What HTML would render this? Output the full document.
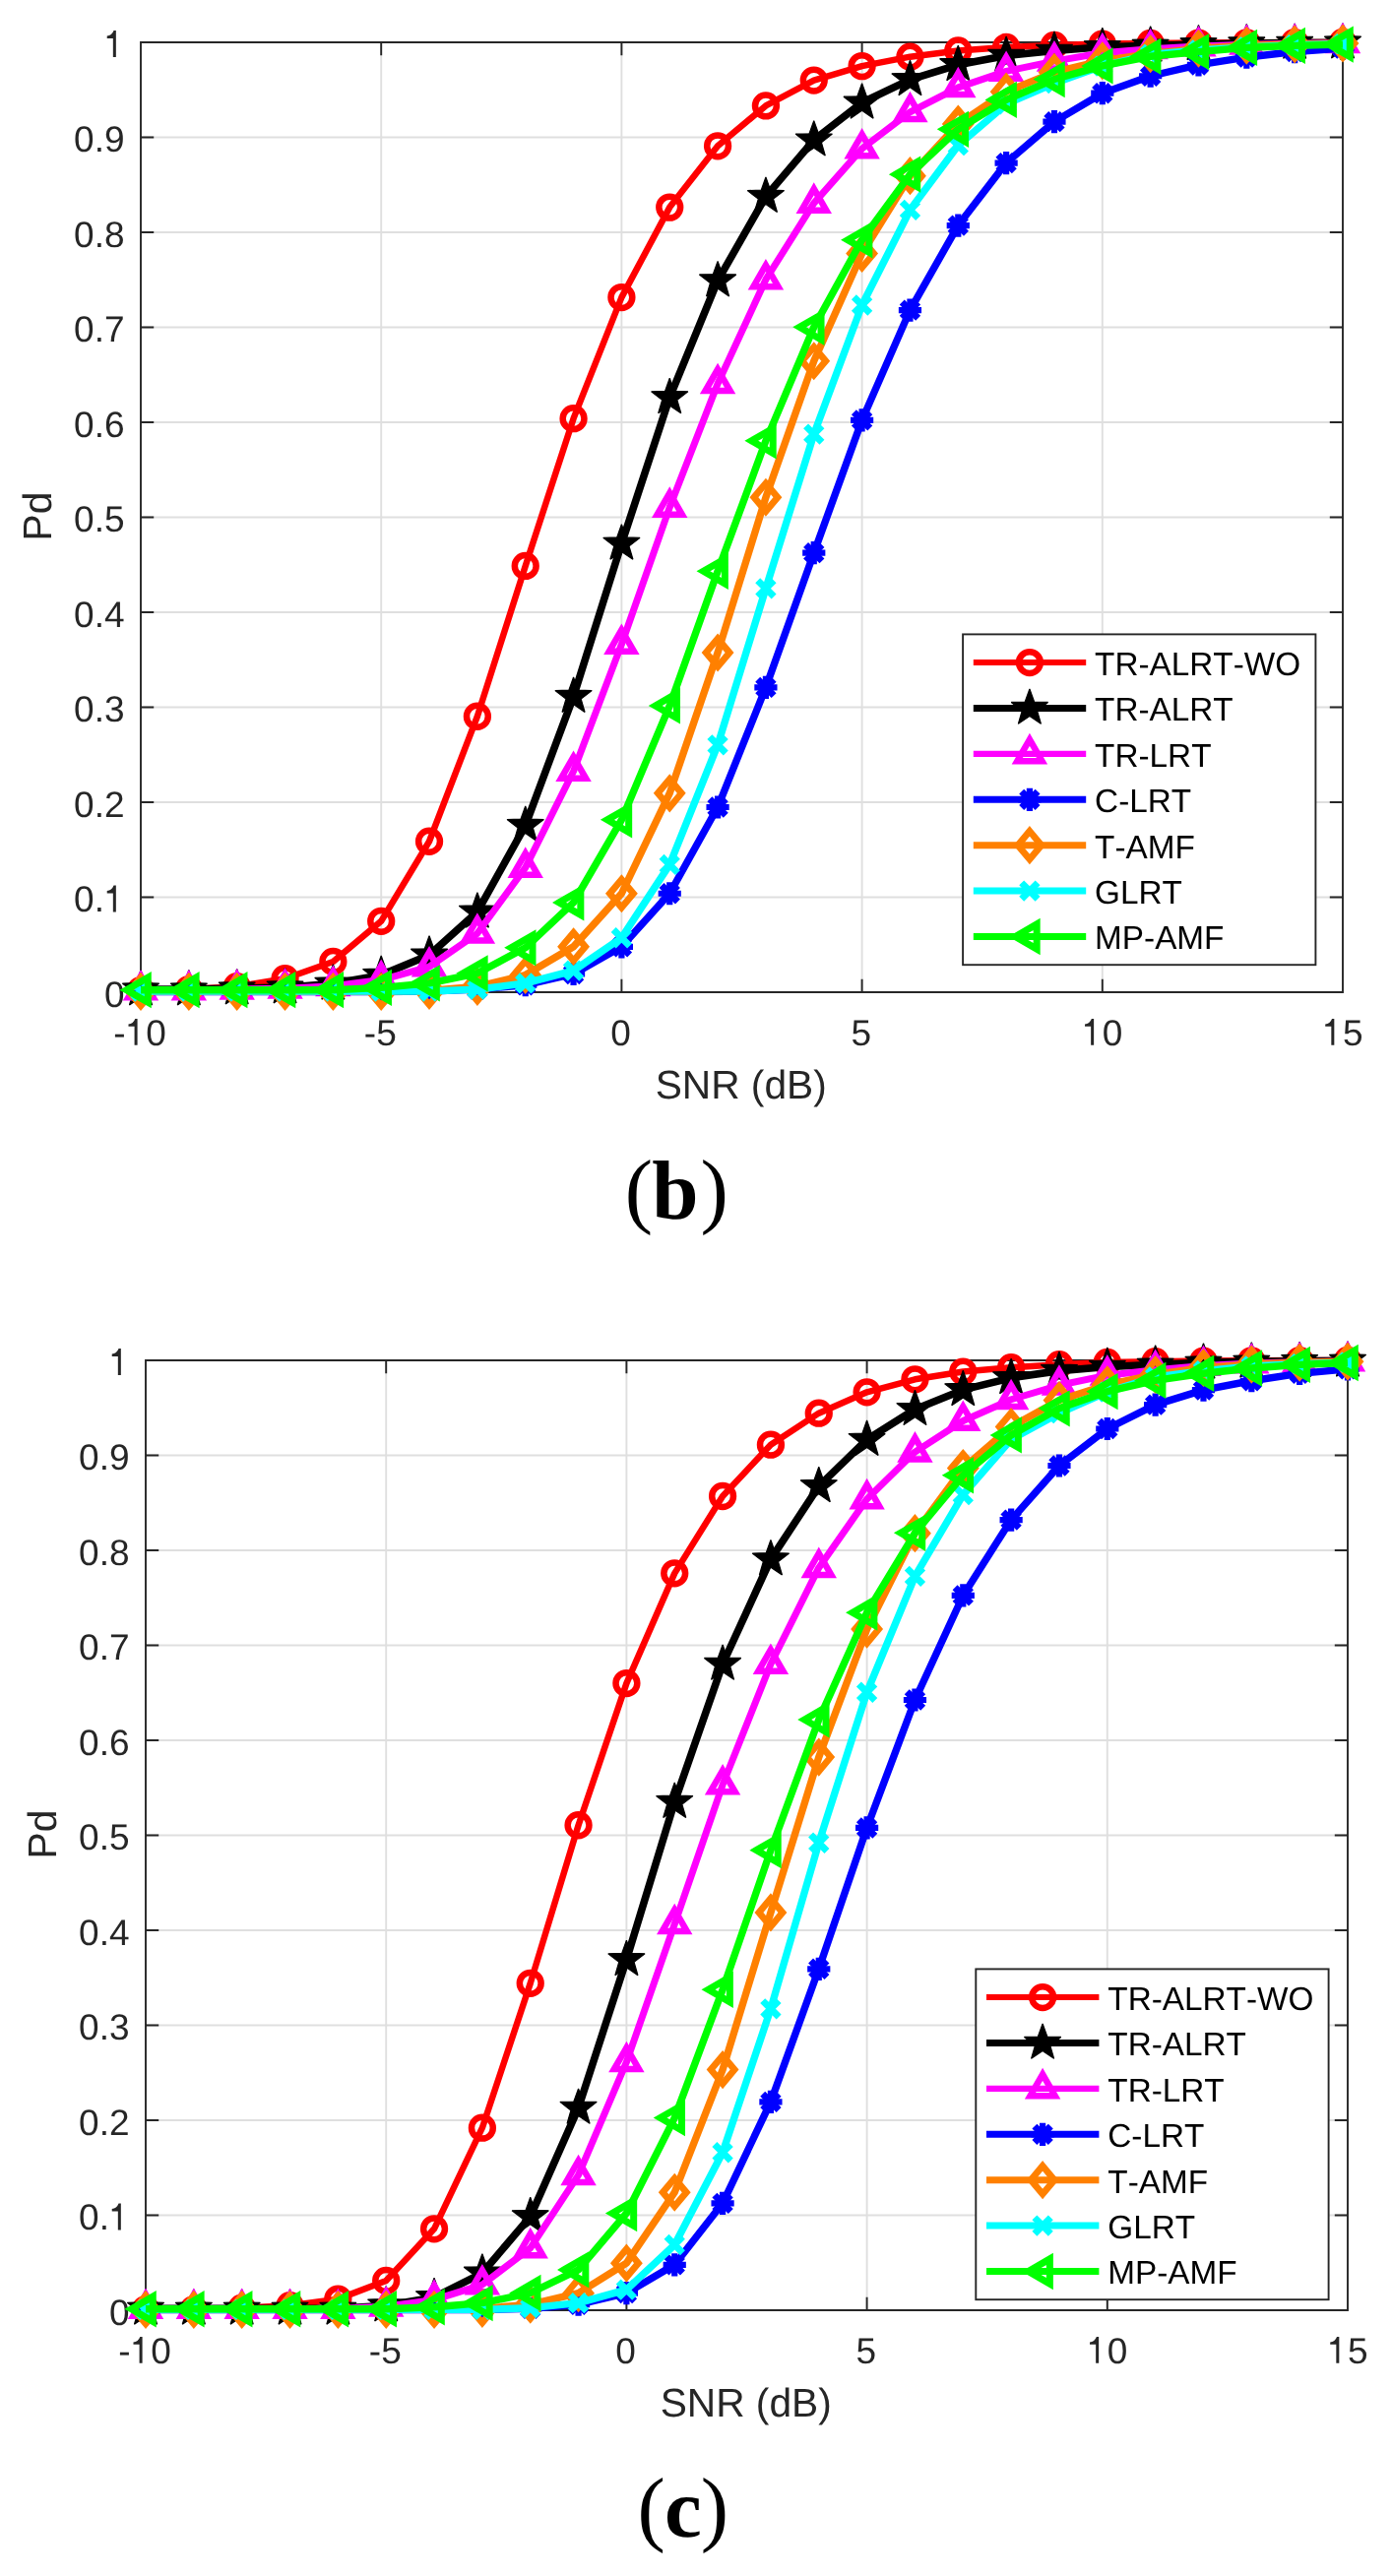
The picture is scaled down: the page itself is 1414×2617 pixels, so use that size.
<!DOCTYPE html>
<html><head><meta charset="utf-8"><title>Pd vs SNR</title>
<style>html,body{margin:0;padding:0;background:#fff}body{width:1414px;height:2617px;overflow:hidden;font-family:"Liberation Sans",sans-serif}svg{display:block}text{font-kerning:none;text-rendering:geometricPrecision}svg{will-change:transform}</style>
</head><body>
<svg width="1414" height="2617" viewBox="0 0 1414 2617">
<path d="M387.2 43V1008M631.4 43V1008M875.6 43V1008M1119.8 43V1008M143 911.5H1364M143 815H1364M143 718.5H1364M143 622H1364M143 525.5H1364M143 429H1364M143 332.5H1364M143 236H1364M143 139.5H1364" stroke="#DFDFDF" stroke-width="1.9" fill="none"/>
<path d="M143 43H1364V1008H143ZM143 1008v-13.2M143 43v13.2M387.2 1008v-13.2M387.2 43v13.2M631.4 1008v-13.2M631.4 43v13.2M875.6 1008v-13.2M875.6 43v13.2M1119.8 1008v-13.2M1119.8 43v13.2M1364 1008v-13.2M1364 43v13.2M143 1008h13.2M1364 1008h-13.2M143 911.5h13.2M1364 911.5h-13.2M143 815h13.2M1364 815h-13.2M143 718.5h13.2M1364 718.5h-13.2M143 622h13.2M1364 622h-13.2M143 525.5h13.2M1364 525.5h-13.2M143 429h13.2M1364 429h-13.2M143 332.5h13.2M1364 332.5h-13.2M143 236h13.2M1364 236h-13.2M143 139.5h13.2M1364 139.5h-13.2M143 43h13.2M1364 43h-13.2" stroke="#262626" stroke-width="1.9" fill="none" stroke-linecap="butt" stroke-linejoin="miter"/>
<g font-family="'Liberation Sans', sans-serif" font-size="37" fill="#262626">
<text x="115.37" y="1061.7">-</text><path fill="#262626" d="M139.59 1034.9V1061.7H136.59V1042.8H130.49V1040.4Q135.29 1040.2 137.29 1034.9Z"/><text x="148.26" y="1061.7">0</text>
<text x="369.85" y="1061.7">-5</text>
<text x="620.21" y="1061.7">0</text>
<text x="864.41" y="1061.7">5</text>
<path fill="#262626" d="M1111.13 1034.9V1061.7H1108.13V1042.8H1102.03V1040.4Q1106.83 1040.2 1108.83 1034.9Z"/><text x="1119.8" y="1061.7">0</text>
<path fill="#262626" d="M1355.33 1034.9V1061.7H1352.33V1042.8H1346.23V1040.4Q1351.03 1040.2 1353.03 1034.9Z"/><text x="1364" y="1061.7">5</text>
<text x="105.93" y="1022.9">0</text>
<text x="75.07" y="926.4">0.</text><path fill="#262626" d="M117.83 899.6V926.4H114.83V907.5H108.73V905.1Q113.53 904.9 115.53 899.6Z"/>
<text x="75.07" y="829.9">0.2</text>
<text x="75.07" y="733.4">0.3</text>
<text x="75.07" y="636.9">0.4</text>
<text x="75.07" y="540.4">0.5</text>
<text x="75.07" y="443.9">0.6</text>
<text x="75.07" y="347.4">0.7</text>
<text x="75.07" y="250.9">0.8</text>
<text x="75.07" y="154.4">0.9</text>
<path fill="#262626" d="M117.83 31.1V57.9H114.83V39H108.73V36.6Q113.53 36.4 115.53 31.1Z"/>
</g>
<g font-family="'Liberation Sans', sans-serif" font-size="40.7" fill="#262626">
<text x="752.7" y="1116.4" text-anchor="middle">SNR (dB)</text>
<text transform="translate(52.3 524.5) rotate(-90)" text-anchor="middle">Pd</text>
</g>
<polyline points="143,1006.07 191.84,1005.11 240.68,1002.21 289.52,994.2 338.36,977.02 387.2,935.82 436.04,854.76 484.88,727.76 533.72,574.91 582.56,425.14 631.4,302.1 680.24,210.62 729.08,148.28 777.92,107.46 826.76,81.6 875.6,67.12 924.44,57.67 973.28,51.49 1022.12,48.02 1070.96,45.89 1119.8,44.54 1168.64,43.97 1217.48,43.58 1266.32,43.29 1315.16,43.1 1364,43" fill="none" stroke="#FF0000" stroke-width="6.5" stroke-linejoin="round"/>
<circle cx="143" cy="1006.07" r="10.9" fill="none" stroke="#FF0000" stroke-width="6.5"/>
<circle cx="191.84" cy="1005.11" r="10.9" fill="none" stroke="#FF0000" stroke-width="6.5"/>
<circle cx="240.68" cy="1002.21" r="10.9" fill="none" stroke="#FF0000" stroke-width="6.5"/>
<circle cx="289.52" cy="994.2" r="10.9" fill="none" stroke="#FF0000" stroke-width="6.5"/>
<circle cx="338.36" cy="977.02" r="10.9" fill="none" stroke="#FF0000" stroke-width="6.5"/>
<circle cx="387.2" cy="935.82" r="10.9" fill="none" stroke="#FF0000" stroke-width="6.5"/>
<circle cx="436.04" cy="854.76" r="10.9" fill="none" stroke="#FF0000" stroke-width="6.5"/>
<circle cx="484.88" cy="727.76" r="10.9" fill="none" stroke="#FF0000" stroke-width="6.5"/>
<circle cx="533.72" cy="574.91" r="10.9" fill="none" stroke="#FF0000" stroke-width="6.5"/>
<circle cx="582.56" cy="425.14" r="10.9" fill="none" stroke="#FF0000" stroke-width="6.5"/>
<circle cx="631.4" cy="302.1" r="10.9" fill="none" stroke="#FF0000" stroke-width="6.5"/>
<circle cx="680.24" cy="210.62" r="10.9" fill="none" stroke="#FF0000" stroke-width="6.5"/>
<circle cx="729.08" cy="148.28" r="10.9" fill="none" stroke="#FF0000" stroke-width="6.5"/>
<circle cx="777.92" cy="107.46" r="10.9" fill="none" stroke="#FF0000" stroke-width="6.5"/>
<circle cx="826.76" cy="81.6" r="10.9" fill="none" stroke="#FF0000" stroke-width="6.5"/>
<circle cx="875.6" cy="67.12" r="10.9" fill="none" stroke="#FF0000" stroke-width="6.5"/>
<circle cx="924.44" cy="57.67" r="10.9" fill="none" stroke="#FF0000" stroke-width="6.5"/>
<circle cx="973.28" cy="51.49" r="10.9" fill="none" stroke="#FF0000" stroke-width="6.5"/>
<circle cx="1022.12" cy="48.02" r="10.9" fill="none" stroke="#FF0000" stroke-width="6.5"/>
<circle cx="1070.96" cy="45.89" r="10.9" fill="none" stroke="#FF0000" stroke-width="6.5"/>
<circle cx="1119.8" cy="44.54" r="10.9" fill="none" stroke="#FF0000" stroke-width="6.5"/>
<circle cx="1168.64" cy="43.97" r="10.9" fill="none" stroke="#FF0000" stroke-width="6.5"/>
<circle cx="1217.48" cy="43.58" r="10.9" fill="none" stroke="#FF0000" stroke-width="6.5"/>
<circle cx="1266.32" cy="43.29" r="10.9" fill="none" stroke="#FF0000" stroke-width="6.5"/>
<circle cx="1315.16" cy="43.1" r="10.9" fill="none" stroke="#FF0000" stroke-width="6.5"/>
<circle cx="1364" cy="43" r="10.9" fill="none" stroke="#FF0000" stroke-width="6.5"/>
<polyline points="143,1005.11 191.84,1005.11 240.68,1004.14 289.52,1003.17 338.36,999.32 387.2,990.63 436.04,970.27 484.88,926.36 533.72,838.55 582.56,707.6 631.4,552.42 680.24,403.91 729.08,285.02 777.92,199.62 826.76,142.2 875.6,104.28 924.44,80.83 973.28,65.77 1022.12,56.51 1070.96,51.49 1119.8,47.83 1168.64,46.38 1217.48,44.93 1266.32,43.97 1315.16,43.48 1364,43.19" fill="none" stroke="#000000" stroke-width="7.6" stroke-linejoin="round"/>
<polygon points="143,985.5 147.7,998.63 161.64,999.05 150.61,1007.58 154.52,1020.96 143,1013.11 131.48,1020.96 135.39,1007.58 124.36,999.05 138.3,998.63" fill="#000000" stroke="#000000" stroke-width="1.2" stroke-linejoin="miter" stroke-miterlimit="2"/>
<polygon points="191.84,985.5 196.54,998.63 210.48,999.05 199.45,1007.58 203.36,1020.96 191.84,1013.11 180.32,1020.96 184.23,1007.58 173.2,999.05 187.14,998.63" fill="#000000" stroke="#000000" stroke-width="1.2" stroke-linejoin="miter" stroke-miterlimit="2"/>
<polygon points="240.68,984.54 245.38,997.67 259.32,998.08 248.29,1006.61 252.2,1020 240.68,1012.14 229.16,1020 233.07,1006.61 222.04,998.08 235.98,997.67" fill="#000000" stroke="#000000" stroke-width="1.2" stroke-linejoin="miter" stroke-miterlimit="2"/>
<polygon points="289.52,983.57 294.22,996.7 308.16,997.12 297.13,1005.65 301.04,1019.03 289.52,1011.17 278,1019.03 281.91,1005.65 270.88,997.12 284.82,996.7" fill="#000000" stroke="#000000" stroke-width="1.2" stroke-linejoin="miter" stroke-miterlimit="2"/>
<polygon points="338.36,979.72 343.06,992.84 357,993.26 345.97,1001.79 349.88,1015.17 338.36,1007.32 326.84,1015.17 330.75,1001.79 319.72,993.26 333.66,992.84" fill="#000000" stroke="#000000" stroke-width="1.2" stroke-linejoin="miter" stroke-miterlimit="2"/>
<polygon points="387.2,971.03 391.9,984.16 405.84,984.57 394.81,993.1 398.72,1006.49 387.2,998.63 375.68,1006.49 379.59,993.1 368.56,984.57 382.5,984.16" fill="#000000" stroke="#000000" stroke-width="1.2" stroke-linejoin="miter" stroke-miterlimit="2"/>
<polygon points="436.04,950.67 440.74,963.8 454.68,964.21 443.65,972.74 447.56,986.13 436.04,978.27 424.52,986.13 428.43,972.74 417.4,964.21 431.34,963.8" fill="#000000" stroke="#000000" stroke-width="1.2" stroke-linejoin="miter" stroke-miterlimit="2"/>
<polygon points="484.88,906.76 489.58,919.89 503.52,920.3 492.49,928.83 496.4,942.22 484.88,934.36 473.36,942.22 477.27,928.83 466.24,920.3 480.18,919.89" fill="#000000" stroke="#000000" stroke-width="1.2" stroke-linejoin="miter" stroke-miterlimit="2"/>
<polygon points="533.72,818.95 538.42,832.07 552.36,832.49 541.33,841.02 545.24,854.4 533.72,846.55 522.2,854.4 526.11,841.02 515.08,832.49 529.02,832.07" fill="#000000" stroke="#000000" stroke-width="1.2" stroke-linejoin="miter" stroke-miterlimit="2"/>
<polygon points="582.56,688 587.26,701.12 601.2,701.54 590.17,710.07 594.08,723.45 582.56,715.6 571.04,723.45 574.95,710.07 563.92,701.54 577.86,701.12" fill="#000000" stroke="#000000" stroke-width="1.2" stroke-linejoin="miter" stroke-miterlimit="2"/>
<polygon points="631.4,532.82 636.1,545.95 650.04,546.37 639.01,554.9 642.92,568.28 631.4,560.42 619.88,568.28 623.79,554.9 612.76,546.37 626.7,545.95" fill="#000000" stroke="#000000" stroke-width="1.2" stroke-linejoin="miter" stroke-miterlimit="2"/>
<polygon points="680.24,384.31 684.94,397.44 698.88,397.85 687.85,406.38 691.76,419.77 680.24,411.91 668.72,419.77 672.63,406.38 661.6,397.85 675.54,397.44" fill="#000000" stroke="#000000" stroke-width="1.2" stroke-linejoin="miter" stroke-miterlimit="2"/>
<polygon points="729.08,265.42 733.78,278.55 747.72,278.97 736.69,287.49 740.6,300.88 729.08,293.02 717.56,300.88 721.47,287.49 710.44,278.97 724.38,278.55" fill="#000000" stroke="#000000" stroke-width="1.2" stroke-linejoin="miter" stroke-miterlimit="2"/>
<polygon points="777.92,180.02 782.62,193.15 796.56,193.56 785.53,202.09 789.44,215.48 777.92,207.62 766.4,215.48 770.31,202.09 759.28,193.56 773.22,193.15" fill="#000000" stroke="#000000" stroke-width="1.2" stroke-linejoin="miter" stroke-miterlimit="2"/>
<polygon points="826.76,122.6 831.46,135.73 845.4,136.15 834.37,144.67 838.28,158.06 826.76,150.2 815.24,158.06 819.15,144.67 808.12,136.15 822.06,135.73" fill="#000000" stroke="#000000" stroke-width="1.2" stroke-linejoin="miter" stroke-miterlimit="2"/>
<polygon points="875.6,84.68 880.3,97.81 894.24,98.22 883.21,106.75 887.12,120.13 875.6,112.28 864.08,120.13 867.99,106.75 856.96,98.22 870.9,97.81" fill="#000000" stroke="#000000" stroke-width="1.2" stroke-linejoin="miter" stroke-miterlimit="2"/>
<polygon points="924.44,61.23 929.14,74.36 943.08,74.77 932.05,83.3 935.96,96.68 924.44,88.83 912.92,96.68 916.83,83.3 905.8,74.77 919.74,74.36" fill="#000000" stroke="#000000" stroke-width="1.2" stroke-linejoin="miter" stroke-miterlimit="2"/>
<polygon points="973.28,46.17 977.98,59.3 991.92,59.72 980.89,68.25 984.8,81.63 973.28,73.77 961.76,81.63 965.67,68.25 954.64,59.72 968.58,59.3" fill="#000000" stroke="#000000" stroke-width="1.2" stroke-linejoin="miter" stroke-miterlimit="2"/>
<polygon points="1022.12,36.91 1026.82,50.04 1040.76,50.45 1029.73,58.98 1033.64,72.37 1022.12,64.51 1010.6,72.37 1014.51,58.98 1003.48,50.45 1017.42,50.04" fill="#000000" stroke="#000000" stroke-width="1.2" stroke-linejoin="miter" stroke-miterlimit="2"/>
<polygon points="1070.96,31.89 1075.66,45.02 1089.6,45.44 1078.57,53.96 1082.48,67.35 1070.96,59.49 1059.44,67.35 1063.35,53.96 1052.32,45.44 1066.26,45.02" fill="#000000" stroke="#000000" stroke-width="1.2" stroke-linejoin="miter" stroke-miterlimit="2"/>
<polygon points="1119.8,28.23 1124.5,41.35 1138.44,41.77 1127.41,50.3 1131.32,63.68 1119.8,55.83 1108.28,63.68 1112.19,50.3 1101.16,41.77 1115.1,41.35" fill="#000000" stroke="#000000" stroke-width="1.2" stroke-linejoin="miter" stroke-miterlimit="2"/>
<polygon points="1168.64,26.78 1173.34,39.91 1187.28,40.32 1176.25,48.85 1180.16,62.23 1168.64,54.38 1157.12,62.23 1161.03,48.85 1150,40.32 1163.94,39.91" fill="#000000" stroke="#000000" stroke-width="1.2" stroke-linejoin="miter" stroke-miterlimit="2"/>
<polygon points="1217.48,25.33 1222.18,38.46 1236.12,38.87 1225.09,47.4 1229,60.79 1217.48,52.93 1205.96,60.79 1209.87,47.4 1198.84,38.87 1212.78,38.46" fill="#000000" stroke="#000000" stroke-width="1.2" stroke-linejoin="miter" stroke-miterlimit="2"/>
<polygon points="1266.32,24.37 1271.02,37.49 1284.96,37.91 1273.93,46.44 1277.84,59.82 1266.32,51.97 1254.8,59.82 1258.71,46.44 1247.68,37.91 1261.62,37.49" fill="#000000" stroke="#000000" stroke-width="1.2" stroke-linejoin="miter" stroke-miterlimit="2"/>
<polygon points="1315.16,23.88 1319.86,37.01 1333.8,37.43 1322.77,45.95 1326.68,59.34 1315.16,51.48 1303.64,59.34 1307.55,45.95 1296.52,37.43 1310.46,37.01" fill="#000000" stroke="#000000" stroke-width="1.2" stroke-linejoin="miter" stroke-miterlimit="2"/>
<polygon points="1364,23.59 1368.7,36.72 1382.64,37.14 1371.61,45.67 1375.52,59.05 1364,51.19 1352.48,59.05 1356.39,45.67 1345.36,37.14 1359.3,36.72" fill="#000000" stroke="#000000" stroke-width="1.2" stroke-linejoin="miter" stroke-miterlimit="2"/>
<polyline points="143,1006.07 191.84,1006.07 240.68,1005.11 289.52,1004.14 338.36,1001.63 387.2,995.55 436.04,982.04 484.88,948.27 533.72,881.39 582.56,783.54 631.4,654.52 680.24,515.37 729.08,389.72 777.92,283.96 826.76,206.37 875.6,151.08 924.44,113.83 973.28,88.84 1022.12,72.43 1070.96,62.11 1119.8,53.81 1168.64,49.75 1217.48,47.05 1266.32,45.32 1315.16,44.35 1364,43.77" fill="none" stroke="#FF00FF" stroke-width="7" stroke-linejoin="round"/>
<polygon points="143,991.52 130.4,1013.34 155.6,1013.34" fill="none" stroke="#FF00FF" stroke-width="6.5" stroke-linejoin="miter" stroke-miterlimit="10"/>
<polygon points="191.84,991.52 179.24,1013.34 204.44,1013.34" fill="none" stroke="#FF00FF" stroke-width="6.5" stroke-linejoin="miter" stroke-miterlimit="10"/>
<polygon points="240.68,990.56 228.08,1012.38 253.28,1012.38" fill="none" stroke="#FF00FF" stroke-width="6.5" stroke-linejoin="miter" stroke-miterlimit="10"/>
<polygon points="289.52,989.59 276.92,1011.41 302.12,1011.41" fill="none" stroke="#FF00FF" stroke-width="6.5" stroke-linejoin="miter" stroke-miterlimit="10"/>
<polygon points="338.36,987.08 325.76,1008.91 350.96,1008.91" fill="none" stroke="#FF00FF" stroke-width="6.5" stroke-linejoin="miter" stroke-miterlimit="10"/>
<polygon points="387.2,981 374.6,1002.83 399.8,1002.83" fill="none" stroke="#FF00FF" stroke-width="6.5" stroke-linejoin="miter" stroke-miterlimit="10"/>
<polygon points="436.04,967.49 423.44,989.32 448.64,989.32" fill="none" stroke="#FF00FF" stroke-width="6.5" stroke-linejoin="miter" stroke-miterlimit="10"/>
<polygon points="484.88,933.72 472.28,955.54 497.48,955.54" fill="none" stroke="#FF00FF" stroke-width="6.5" stroke-linejoin="miter" stroke-miterlimit="10"/>
<polygon points="533.72,866.84 521.12,888.67 546.32,888.67" fill="none" stroke="#FF00FF" stroke-width="6.5" stroke-linejoin="miter" stroke-miterlimit="10"/>
<polygon points="582.56,768.99 569.96,790.82 595.16,790.82" fill="none" stroke="#FF00FF" stroke-width="6.5" stroke-linejoin="miter" stroke-miterlimit="10"/>
<polygon points="631.4,639.97 618.8,661.8 644,661.8" fill="none" stroke="#FF00FF" stroke-width="6.5" stroke-linejoin="miter" stroke-miterlimit="10"/>
<polygon points="680.24,500.82 667.64,522.64 692.84,522.64" fill="none" stroke="#FF00FF" stroke-width="6.5" stroke-linejoin="miter" stroke-miterlimit="10"/>
<polygon points="729.08,375.18 716.48,397 741.68,397" fill="none" stroke="#FF00FF" stroke-width="6.5" stroke-linejoin="miter" stroke-miterlimit="10"/>
<polygon points="777.92,269.41 765.32,291.24 790.52,291.24" fill="none" stroke="#FF00FF" stroke-width="6.5" stroke-linejoin="miter" stroke-miterlimit="10"/>
<polygon points="826.76,191.83 814.16,213.65 839.36,213.65" fill="none" stroke="#FF00FF" stroke-width="6.5" stroke-linejoin="miter" stroke-miterlimit="10"/>
<polygon points="875.6,136.53 863,158.35 888.2,158.35" fill="none" stroke="#FF00FF" stroke-width="6.5" stroke-linejoin="miter" stroke-miterlimit="10"/>
<polygon points="924.44,99.28 911.84,121.11 937.04,121.11" fill="none" stroke="#FF00FF" stroke-width="6.5" stroke-linejoin="miter" stroke-miterlimit="10"/>
<polygon points="973.28,74.29 960.68,96.11 985.88,96.11" fill="none" stroke="#FF00FF" stroke-width="6.5" stroke-linejoin="miter" stroke-miterlimit="10"/>
<polygon points="1022.12,57.88 1009.52,79.71 1034.72,79.71" fill="none" stroke="#FF00FF" stroke-width="6.5" stroke-linejoin="miter" stroke-miterlimit="10"/>
<polygon points="1070.96,47.56 1058.36,69.38 1083.56,69.38" fill="none" stroke="#FF00FF" stroke-width="6.5" stroke-linejoin="miter" stroke-miterlimit="10"/>
<polygon points="1119.8,39.26 1107.2,61.08 1132.4,61.08" fill="none" stroke="#FF00FF" stroke-width="6.5" stroke-linejoin="miter" stroke-miterlimit="10"/>
<polygon points="1168.64,35.21 1156.04,57.03 1181.24,57.03" fill="none" stroke="#FF00FF" stroke-width="6.5" stroke-linejoin="miter" stroke-miterlimit="10"/>
<polygon points="1217.48,32.5 1204.88,54.33 1230.08,54.33" fill="none" stroke="#FF00FF" stroke-width="6.5" stroke-linejoin="miter" stroke-miterlimit="10"/>
<polygon points="1266.32,30.77 1253.72,52.59 1278.92,52.59" fill="none" stroke="#FF00FF" stroke-width="6.5" stroke-linejoin="miter" stroke-miterlimit="10"/>
<polygon points="1315.16,29.8 1302.56,51.63 1327.76,51.63" fill="none" stroke="#FF00FF" stroke-width="6.5" stroke-linejoin="miter" stroke-miterlimit="10"/>
<polygon points="1364,29.22 1351.4,51.05 1376.6,51.05" fill="none" stroke="#FF00FF" stroke-width="6.5" stroke-linejoin="miter" stroke-miterlimit="10"/>
<polyline points="143,1007.52 191.84,1007.52 240.68,1007.52 289.52,1007.52 338.36,1007.52 387.2,1007.52 436.04,1007.03 484.88,1005.11 533.72,1000.76 582.56,989.47 631.4,961.78 680.24,907.74 729.08,820.02 777.92,698.43 826.76,561.69 875.6,426.88 924.44,315.13 973.28,229.05 1022.12,165.55 1070.96,123.67 1119.8,94.72 1168.64,77.26 1217.48,65.97 1266.32,58.15 1315.16,52.55 1364,49.18" fill="none" stroke="#0000FF" stroke-width="7.4" stroke-linejoin="round"/>
<path d="M134.8 999.32L151.2 1015.72M134.8 1015.72L151.2 999.32" stroke="#0000FF" stroke-width="7" fill="none"/><path d="M143 995.92L143 1019.12M131.4 1007.52L154.6 1007.52" stroke="#0000FF" stroke-width="6.2" fill="none"/>
<path d="M183.64 999.32L200.04 1015.72M183.64 1015.72L200.04 999.32" stroke="#0000FF" stroke-width="7" fill="none"/><path d="M191.84 995.92L191.84 1019.12M180.24 1007.52L203.44 1007.52" stroke="#0000FF" stroke-width="6.2" fill="none"/>
<path d="M232.48 999.32L248.88 1015.72M232.48 1015.72L248.88 999.32" stroke="#0000FF" stroke-width="7" fill="none"/><path d="M240.68 995.92L240.68 1019.12M229.08 1007.52L252.28 1007.52" stroke="#0000FF" stroke-width="6.2" fill="none"/>
<path d="M281.32 999.32L297.72 1015.72M281.32 1015.72L297.72 999.32" stroke="#0000FF" stroke-width="7" fill="none"/><path d="M289.52 995.92L289.52 1019.12M277.92 1007.52L301.12 1007.52" stroke="#0000FF" stroke-width="6.2" fill="none"/>
<path d="M330.16 999.32L346.56 1015.72M330.16 1015.72L346.56 999.32" stroke="#0000FF" stroke-width="7" fill="none"/><path d="M338.36 995.92L338.36 1019.12M326.76 1007.52L349.96 1007.52" stroke="#0000FF" stroke-width="6.2" fill="none"/>
<path d="M379 999.32L395.4 1015.72M379 1015.72L395.4 999.32" stroke="#0000FF" stroke-width="7" fill="none"/><path d="M387.2 995.92L387.2 1019.12M375.6 1007.52L398.8 1007.52" stroke="#0000FF" stroke-width="6.2" fill="none"/>
<path d="M427.84 998.83L444.24 1015.24M427.84 1015.24L444.24 998.83" stroke="#0000FF" stroke-width="7" fill="none"/><path d="M436.04 995.43L436.04 1018.63M424.44 1007.03L447.64 1007.03" stroke="#0000FF" stroke-width="6.2" fill="none"/>
<path d="M476.68 996.9L493.08 1013.31M476.68 1013.31L493.08 996.9" stroke="#0000FF" stroke-width="7" fill="none"/><path d="M484.88 993.5L484.88 1016.71M473.28 1005.11L496.48 1005.11" stroke="#0000FF" stroke-width="6.2" fill="none"/>
<path d="M525.52 992.56L541.92 1008.96M525.52 1008.96L541.92 992.56" stroke="#0000FF" stroke-width="7" fill="none"/><path d="M533.72 989.16L533.72 1012.36M522.12 1000.76L545.32 1000.76" stroke="#0000FF" stroke-width="6.2" fill="none"/>
<path d="M574.36 981.27L590.76 997.67M574.36 997.67L590.76 981.27" stroke="#0000FF" stroke-width="7" fill="none"/><path d="M582.56 977.87L582.56 1001.07M570.96 989.47L594.16 989.47" stroke="#0000FF" stroke-width="6.2" fill="none"/>
<path d="M623.2 953.58L639.6 969.98M623.2 969.98L639.6 953.58" stroke="#0000FF" stroke-width="7" fill="none"/><path d="M631.4 950.18L631.4 973.38M619.8 961.78L643 961.78" stroke="#0000FF" stroke-width="6.2" fill="none"/>
<path d="M672.04 899.54L688.44 915.94M672.04 915.94L688.44 899.54" stroke="#0000FF" stroke-width="7" fill="none"/><path d="M680.24 896.14L680.24 919.34M668.64 907.74L691.84 907.74" stroke="#0000FF" stroke-width="6.2" fill="none"/>
<path d="M720.88 811.82L737.28 828.22M720.88 828.22L737.28 811.82" stroke="#0000FF" stroke-width="7" fill="none"/><path d="M729.08 808.42L729.08 831.62M717.48 820.02L740.68 820.02" stroke="#0000FF" stroke-width="6.2" fill="none"/>
<path d="M769.72 690.23L786.12 706.63M769.72 706.63L786.12 690.23" stroke="#0000FF" stroke-width="7" fill="none"/><path d="M777.92 686.83L777.92 710.03M766.32 698.43L789.52 698.43" stroke="#0000FF" stroke-width="6.2" fill="none"/>
<path d="M818.56 553.49L834.96 569.89M818.56 569.89L834.96 553.49" stroke="#0000FF" stroke-width="7" fill="none"/><path d="M826.76 550.09L826.76 573.29M815.16 561.69L838.36 561.69" stroke="#0000FF" stroke-width="6.2" fill="none"/>
<path d="M867.4 418.68L883.8 435.08M867.4 435.08L883.8 418.68" stroke="#0000FF" stroke-width="7" fill="none"/><path d="M875.6 415.28L875.6 438.48M864 426.88L887.2 426.88" stroke="#0000FF" stroke-width="6.2" fill="none"/>
<path d="M916.24 306.93L932.64 323.33M916.24 323.33L932.64 306.93" stroke="#0000FF" stroke-width="7" fill="none"/><path d="M924.44 303.53L924.44 326.73M912.84 315.13L936.04 315.13" stroke="#0000FF" stroke-width="6.2" fill="none"/>
<path d="M965.08 220.85L981.48 237.25M965.08 237.25L981.48 220.85" stroke="#0000FF" stroke-width="7" fill="none"/><path d="M973.28 217.45L973.28 240.65M961.68 229.05L984.88 229.05" stroke="#0000FF" stroke-width="6.2" fill="none"/>
<path d="M1013.92 157.35L1030.32 173.75M1013.92 173.75L1030.32 157.35" stroke="#0000FF" stroke-width="7" fill="none"/><path d="M1022.12 153.95L1022.12 177.15M1010.52 165.55L1033.72 165.55" stroke="#0000FF" stroke-width="6.2" fill="none"/>
<path d="M1062.76 115.47L1079.16 131.87M1062.76 131.87L1079.16 115.47" stroke="#0000FF" stroke-width="7" fill="none"/><path d="M1070.96 112.07L1070.96 135.27M1059.36 123.67L1082.56 123.67" stroke="#0000FF" stroke-width="6.2" fill="none"/>
<path d="M1111.6 86.52L1128 102.92M1111.6 102.92L1128 86.52" stroke="#0000FF" stroke-width="7" fill="none"/><path d="M1119.8 83.12L1119.8 106.32M1108.2 94.72L1131.4 94.72" stroke="#0000FF" stroke-width="6.2" fill="none"/>
<path d="M1160.44 69.06L1176.84 85.46M1160.44 85.46L1176.84 69.06" stroke="#0000FF" stroke-width="7" fill="none"/><path d="M1168.64 65.66L1168.64 88.86M1157.04 77.26L1180.24 77.26" stroke="#0000FF" stroke-width="6.2" fill="none"/>
<path d="M1209.28 57.77L1225.68 74.17M1209.28 74.17L1225.68 57.77" stroke="#0000FF" stroke-width="7" fill="none"/><path d="M1217.48 54.37L1217.48 77.57M1205.88 65.97L1229.08 65.97" stroke="#0000FF" stroke-width="6.2" fill="none"/>
<path d="M1258.12 49.95L1274.52 66.35M1258.12 66.35L1274.52 49.95" stroke="#0000FF" stroke-width="7" fill="none"/><path d="M1266.32 46.55L1266.32 69.75M1254.72 58.15L1277.92 58.15" stroke="#0000FF" stroke-width="6.2" fill="none"/>
<path d="M1306.96 44.35L1323.36 60.75M1306.96 60.75L1323.36 44.35" stroke="#0000FF" stroke-width="7" fill="none"/><path d="M1315.16 40.95L1315.16 64.15M1303.56 52.55L1326.76 52.55" stroke="#0000FF" stroke-width="6.2" fill="none"/>
<path d="M1355.8 40.98L1372.2 57.38M1355.8 57.38L1372.2 40.98" stroke="#0000FF" stroke-width="7" fill="none"/><path d="M1364 37.58L1364 60.78M1352.4 49.18L1375.6 49.18" stroke="#0000FF" stroke-width="6.2" fill="none"/>
<polyline points="143,1007.42 191.84,1007.42 240.68,1007.42 289.52,1007.42 338.36,1007.42 387.2,1007.42 436.04,1006.36 484.88,1002.31 533.72,990.53 582.56,961.78 631.4,907.74 680.24,805.83 729.08,663.01 777.92,505.23 826.76,366.76 875.6,257.52 924.44,178.68 973.28,125.99 1022.12,93.18 1070.96,73.4 1119.8,61.72 1168.64,54.77 1217.48,49.27 1266.32,46.28 1315.16,44.93 1364,43.97" fill="none" stroke="#FF8000" stroke-width="7.4" stroke-linejoin="round"/>
<polygon points="143,993.12 155,1007.42 143,1021.72 131,1007.42" fill="none" stroke="#FF8000" stroke-width="6.8" stroke-linejoin="miter" stroke-miterlimit="10"/>
<polygon points="191.84,993.12 203.84,1007.42 191.84,1021.72 179.84,1007.42" fill="none" stroke="#FF8000" stroke-width="6.8" stroke-linejoin="miter" stroke-miterlimit="10"/>
<polygon points="240.68,993.12 252.68,1007.42 240.68,1021.72 228.68,1007.42" fill="none" stroke="#FF8000" stroke-width="6.8" stroke-linejoin="miter" stroke-miterlimit="10"/>
<polygon points="289.52,993.12 301.52,1007.42 289.52,1021.72 277.52,1007.42" fill="none" stroke="#FF8000" stroke-width="6.8" stroke-linejoin="miter" stroke-miterlimit="10"/>
<polygon points="338.36,993.12 350.36,1007.42 338.36,1021.72 326.36,1007.42" fill="none" stroke="#FF8000" stroke-width="6.8" stroke-linejoin="miter" stroke-miterlimit="10"/>
<polygon points="387.2,993.12 399.2,1007.42 387.2,1021.72 375.2,1007.42" fill="none" stroke="#FF8000" stroke-width="6.8" stroke-linejoin="miter" stroke-miterlimit="10"/>
<polygon points="436.04,992.06 448.04,1006.36 436.04,1020.66 424.04,1006.36" fill="none" stroke="#FF8000" stroke-width="6.8" stroke-linejoin="miter" stroke-miterlimit="10"/>
<polygon points="484.88,988.01 496.88,1002.31 484.88,1016.61 472.88,1002.31" fill="none" stroke="#FF8000" stroke-width="6.8" stroke-linejoin="miter" stroke-miterlimit="10"/>
<polygon points="533.72,976.23 545.72,990.53 533.72,1004.83 521.72,990.53" fill="none" stroke="#FF8000" stroke-width="6.8" stroke-linejoin="miter" stroke-miterlimit="10"/>
<polygon points="582.56,947.48 594.56,961.78 582.56,976.08 570.56,961.78" fill="none" stroke="#FF8000" stroke-width="6.8" stroke-linejoin="miter" stroke-miterlimit="10"/>
<polygon points="631.4,893.44 643.4,907.74 631.4,922.04 619.4,907.74" fill="none" stroke="#FF8000" stroke-width="6.8" stroke-linejoin="miter" stroke-miterlimit="10"/>
<polygon points="680.24,791.53 692.24,805.83 680.24,820.13 668.24,805.83" fill="none" stroke="#FF8000" stroke-width="6.8" stroke-linejoin="miter" stroke-miterlimit="10"/>
<polygon points="729.08,648.71 741.08,663.01 729.08,677.31 717.08,663.01" fill="none" stroke="#FF8000" stroke-width="6.8" stroke-linejoin="miter" stroke-miterlimit="10"/>
<polygon points="777.92,490.93 789.92,505.23 777.92,519.53 765.92,505.23" fill="none" stroke="#FF8000" stroke-width="6.8" stroke-linejoin="miter" stroke-miterlimit="10"/>
<polygon points="826.76,352.46 838.76,366.76 826.76,381.06 814.76,366.76" fill="none" stroke="#FF8000" stroke-width="6.8" stroke-linejoin="miter" stroke-miterlimit="10"/>
<polygon points="875.6,243.22 887.6,257.52 875.6,271.82 863.6,257.52" fill="none" stroke="#FF8000" stroke-width="6.8" stroke-linejoin="miter" stroke-miterlimit="10"/>
<polygon points="924.44,164.38 936.44,178.68 924.44,192.98 912.44,178.68" fill="none" stroke="#FF8000" stroke-width="6.8" stroke-linejoin="miter" stroke-miterlimit="10"/>
<polygon points="973.28,111.69 985.28,125.99 973.28,140.29 961.28,125.99" fill="none" stroke="#FF8000" stroke-width="6.8" stroke-linejoin="miter" stroke-miterlimit="10"/>
<polygon points="1022.12,78.88 1034.12,93.18 1022.12,107.48 1010.12,93.18" fill="none" stroke="#FF8000" stroke-width="6.8" stroke-linejoin="miter" stroke-miterlimit="10"/>
<polygon points="1070.96,59.1 1082.96,73.4 1070.96,87.7 1058.96,73.4" fill="none" stroke="#FF8000" stroke-width="6.8" stroke-linejoin="miter" stroke-miterlimit="10"/>
<polygon points="1119.8,47.42 1131.8,61.72 1119.8,76.02 1107.8,61.72" fill="none" stroke="#FF8000" stroke-width="6.8" stroke-linejoin="miter" stroke-miterlimit="10"/>
<polygon points="1168.64,40.47 1180.64,54.77 1168.64,69.07 1156.64,54.77" fill="none" stroke="#FF8000" stroke-width="6.8" stroke-linejoin="miter" stroke-miterlimit="10"/>
<polygon points="1217.48,34.97 1229.48,49.27 1217.48,63.57 1205.48,49.27" fill="none" stroke="#FF8000" stroke-width="6.8" stroke-linejoin="miter" stroke-miterlimit="10"/>
<polygon points="1266.32,31.98 1278.32,46.28 1266.32,60.58 1254.32,46.28" fill="none" stroke="#FF8000" stroke-width="6.8" stroke-linejoin="miter" stroke-miterlimit="10"/>
<polygon points="1315.16,30.63 1327.16,44.93 1315.16,59.23 1303.16,44.93" fill="none" stroke="#FF8000" stroke-width="6.8" stroke-linejoin="miter" stroke-miterlimit="10"/>
<polygon points="1364,29.67 1376,43.97 1364,58.27 1352,43.97" fill="none" stroke="#FF8000" stroke-width="6.8" stroke-linejoin="miter" stroke-miterlimit="10"/>
<polyline points="143,1007.03 191.84,1007.03 240.68,1007.03 289.52,1007.03 338.36,1007.03 387.2,1007.03 436.04,1007.03 484.88,1005.11 533.72,998.93 582.56,986.09 631.4,952.71 680.24,878.4 729.08,756.81 777.92,597.88 826.76,441.06 875.6,310.02 924.44,213.32 973.28,147.7 1022.12,105.72 1070.96,84.5 1119.8,67.12 1168.64,55.35 1217.48,51.01 1266.32,47.83 1315.16,45.7 1364,44.64" fill="none" stroke="#00FFFF" stroke-width="7.4" stroke-linejoin="round"/>
<path d="M134.8 998.83L151.2 1015.24M134.8 1015.24L151.2 998.83" stroke="#00FFFF" stroke-width="7" fill="none"/>
<path d="M183.64 998.83L200.04 1015.24M183.64 1015.24L200.04 998.83" stroke="#00FFFF" stroke-width="7" fill="none"/>
<path d="M232.48 998.83L248.88 1015.24M232.48 1015.24L248.88 998.83" stroke="#00FFFF" stroke-width="7" fill="none"/>
<path d="M281.32 998.83L297.72 1015.24M281.32 1015.24L297.72 998.83" stroke="#00FFFF" stroke-width="7" fill="none"/>
<path d="M330.16 998.83L346.56 1015.24M330.16 1015.24L346.56 998.83" stroke="#00FFFF" stroke-width="7" fill="none"/>
<path d="M379 998.83L395.4 1015.24M379 1015.24L395.4 998.83" stroke="#00FFFF" stroke-width="7" fill="none"/>
<path d="M427.84 998.83L444.24 1015.24M427.84 1015.24L444.24 998.83" stroke="#00FFFF" stroke-width="7" fill="none"/>
<path d="M476.68 996.9L493.08 1013.31M476.68 1013.31L493.08 996.9" stroke="#00FFFF" stroke-width="7" fill="none"/>
<path d="M525.52 990.73L541.92 1007.13M525.52 1007.13L541.92 990.73" stroke="#00FFFF" stroke-width="7" fill="none"/>
<path d="M574.36 977.89L590.76 994.29M574.36 994.29L590.76 977.89" stroke="#00FFFF" stroke-width="7" fill="none"/>
<path d="M623.2 944.51L639.6 960.91M623.2 960.91L639.6 944.51" stroke="#00FFFF" stroke-width="7" fill="none"/>
<path d="M672.04 870.2L688.44 886.6M672.04 886.6L688.44 870.2" stroke="#00FFFF" stroke-width="7" fill="none"/>
<path d="M720.88 748.61L737.28 765.01M720.88 765.01L737.28 748.61" stroke="#00FFFF" stroke-width="7" fill="none"/>
<path d="M769.72 589.67L786.12 606.08M769.72 606.08L786.12 589.67" stroke="#00FFFF" stroke-width="7" fill="none"/>
<path d="M818.56 432.86L834.96 449.26M818.56 449.26L834.96 432.86" stroke="#00FFFF" stroke-width="7" fill="none"/>
<path d="M867.4 301.82L883.8 318.22M867.4 318.22L883.8 301.82" stroke="#00FFFF" stroke-width="7" fill="none"/>
<path d="M916.24 205.12L932.64 221.52M916.24 221.52L932.64 205.12" stroke="#00FFFF" stroke-width="7" fill="none"/>
<path d="M965.08 139.5L981.48 155.9M965.08 155.9L981.48 139.5" stroke="#00FFFF" stroke-width="7" fill="none"/>
<path d="M1013.92 97.52L1030.32 113.92M1013.92 113.92L1030.32 97.52" stroke="#00FFFF" stroke-width="7" fill="none"/>
<path d="M1062.76 76.3L1079.16 92.7M1062.76 92.7L1079.16 76.3" stroke="#00FFFF" stroke-width="7" fill="none"/>
<path d="M1111.6 58.92L1128 75.33M1111.6 75.33L1128 58.92" stroke="#00FFFF" stroke-width="7" fill="none"/>
<path d="M1160.44 47.15L1176.84 63.55M1160.44 63.55L1176.84 47.15" stroke="#00FFFF" stroke-width="7" fill="none"/>
<path d="M1209.28 42.81L1225.68 59.21M1209.28 59.21L1225.68 42.81" stroke="#00FFFF" stroke-width="7" fill="none"/>
<path d="M1258.12 39.63L1274.52 56.03M1258.12 56.03L1274.52 39.63" stroke="#00FFFF" stroke-width="7" fill="none"/>
<path d="M1306.96 37.5L1323.36 53.9M1306.96 53.9L1323.36 37.5" stroke="#00FFFF" stroke-width="7" fill="none"/>
<path d="M1355.8 36.44L1372.2 52.84M1355.8 52.84L1372.2 36.44" stroke="#00FFFF" stroke-width="7" fill="none"/>
<polyline points="143,1005.68 191.84,1005.68 240.68,1005.68 289.52,1005.68 338.36,1005.68 387.2,1003.37 436.04,998.93 484.88,988.8 533.72,962.84 582.56,916.9 631.4,832.85 680.24,716.96 729.08,580.31 777.92,447.82 826.76,332.31 875.6,243.72 924.44,177.13 973.28,131.3 1022.12,101.38 1070.96,80.54 1119.8,66.93 1168.64,57.28 1217.48,52.65 1266.32,48.4 1315.16,46.38 1364,45.12" fill="none" stroke="#00FF00" stroke-width="7.4" stroke-linejoin="round"/>
<polygon points="128.45,1005.68 150.27,993.08 150.27,1018.28" fill="none" stroke="#00FF00" stroke-width="7" stroke-linejoin="miter" stroke-miterlimit="10"/>
<polygon points="177.29,1005.68 199.11,993.08 199.11,1018.28" fill="none" stroke="#00FF00" stroke-width="7" stroke-linejoin="miter" stroke-miterlimit="10"/>
<polygon points="226.13,1005.68 247.95,993.08 247.95,1018.28" fill="none" stroke="#00FF00" stroke-width="7" stroke-linejoin="miter" stroke-miterlimit="10"/>
<polygon points="274.97,1005.68 296.79,993.08 296.79,1018.28" fill="none" stroke="#00FF00" stroke-width="7" stroke-linejoin="miter" stroke-miterlimit="10"/>
<polygon points="323.81,1005.68 345.63,993.08 345.63,1018.28" fill="none" stroke="#00FF00" stroke-width="7" stroke-linejoin="miter" stroke-miterlimit="10"/>
<polygon points="372.65,1003.37 394.47,990.77 394.47,1015.97" fill="none" stroke="#00FF00" stroke-width="7" stroke-linejoin="miter" stroke-miterlimit="10"/>
<polygon points="421.49,998.93 443.31,986.33 443.31,1011.53" fill="none" stroke="#00FF00" stroke-width="7" stroke-linejoin="miter" stroke-miterlimit="10"/>
<polygon points="470.33,988.8 492.15,976.2 492.15,1001.4" fill="none" stroke="#00FF00" stroke-width="7" stroke-linejoin="miter" stroke-miterlimit="10"/>
<polygon points="519.17,962.84 540.99,950.24 540.99,975.44" fill="none" stroke="#00FF00" stroke-width="7" stroke-linejoin="miter" stroke-miterlimit="10"/>
<polygon points="568.01,916.9 589.83,904.3 589.83,929.5" fill="none" stroke="#00FF00" stroke-width="7" stroke-linejoin="miter" stroke-miterlimit="10"/>
<polygon points="616.85,832.85 638.67,820.25 638.67,845.45" fill="none" stroke="#00FF00" stroke-width="7" stroke-linejoin="miter" stroke-miterlimit="10"/>
<polygon points="665.69,716.96 687.51,704.36 687.51,729.56" fill="none" stroke="#00FF00" stroke-width="7" stroke-linejoin="miter" stroke-miterlimit="10"/>
<polygon points="714.53,580.31 736.35,567.71 736.35,592.91" fill="none" stroke="#00FF00" stroke-width="7" stroke-linejoin="miter" stroke-miterlimit="10"/>
<polygon points="763.37,447.82 785.19,435.22 785.19,460.42" fill="none" stroke="#00FF00" stroke-width="7" stroke-linejoin="miter" stroke-miterlimit="10"/>
<polygon points="812.21,332.31 834.03,319.71 834.03,344.91" fill="none" stroke="#00FF00" stroke-width="7" stroke-linejoin="miter" stroke-miterlimit="10"/>
<polygon points="861.05,243.72 882.87,231.12 882.87,256.32" fill="none" stroke="#00FF00" stroke-width="7" stroke-linejoin="miter" stroke-miterlimit="10"/>
<polygon points="909.89,177.13 931.71,164.53 931.71,189.73" fill="none" stroke="#00FF00" stroke-width="7" stroke-linejoin="miter" stroke-miterlimit="10"/>
<polygon points="958.73,131.3 980.55,118.7 980.55,143.9" fill="none" stroke="#00FF00" stroke-width="7" stroke-linejoin="miter" stroke-miterlimit="10"/>
<polygon points="1007.57,101.38 1029.39,88.78 1029.39,113.98" fill="none" stroke="#00FF00" stroke-width="7" stroke-linejoin="miter" stroke-miterlimit="10"/>
<polygon points="1056.41,80.54 1078.23,67.94 1078.23,93.14" fill="none" stroke="#00FF00" stroke-width="7" stroke-linejoin="miter" stroke-miterlimit="10"/>
<polygon points="1105.25,66.93 1127.07,54.33 1127.07,79.53" fill="none" stroke="#00FF00" stroke-width="7" stroke-linejoin="miter" stroke-miterlimit="10"/>
<polygon points="1154.09,57.28 1175.91,44.68 1175.91,69.88" fill="none" stroke="#00FF00" stroke-width="7" stroke-linejoin="miter" stroke-miterlimit="10"/>
<polygon points="1202.93,52.65 1224.75,40.05 1224.75,65.25" fill="none" stroke="#00FF00" stroke-width="7" stroke-linejoin="miter" stroke-miterlimit="10"/>
<polygon points="1251.77,48.4 1273.59,35.8 1273.59,61" fill="none" stroke="#00FF00" stroke-width="7" stroke-linejoin="miter" stroke-miterlimit="10"/>
<polygon points="1300.61,46.38 1322.43,33.78 1322.43,58.98" fill="none" stroke="#00FF00" stroke-width="7" stroke-linejoin="miter" stroke-miterlimit="10"/>
<polygon points="1349.45,45.12 1371.27,32.52 1371.27,57.72" fill="none" stroke="#00FF00" stroke-width="7" stroke-linejoin="miter" stroke-miterlimit="10"/>
<rect x="978.1" y="644.4" width="358.3" height="335.8" fill="#fff" stroke="#262626" stroke-width="1.9"/>
<g font-family="'Liberation Sans', sans-serif" font-size="33.3" fill="#000">
<path d="M988.8 673.1H1103.2" stroke="#FF0000" stroke-width="6"/>
<circle cx="1045.9" cy="673.1" r="10.9" fill="none" stroke="#FF0000" stroke-width="6.5"/>
<text x="1112.1" y="685.9">TR-ALRT-WO</text>
<path d="M988.8 719.5H1103.2" stroke="#000000" stroke-width="6.8"/>
<polygon points="1045.9,699.9 1050.6,713.03 1064.54,713.44 1053.51,721.97 1057.42,735.36 1045.9,727.5 1034.38,735.36 1038.29,721.97 1027.26,713.44 1041.2,713.03" fill="#000000" stroke="#000000" stroke-width="1.2" stroke-linejoin="miter" stroke-miterlimit="2"/>
<text x="1112.1" y="732.3">TR-ALRT</text>
<path d="M988.8 765.9H1103.2" stroke="#FF00FF" stroke-width="6.1"/>
<polygon points="1045.9,751.35 1033.3,773.17 1058.5,773.17" fill="none" stroke="#FF00FF" stroke-width="6.5" stroke-linejoin="miter" stroke-miterlimit="10"/>
<text x="1112.1" y="778.7">TR-LRT</text>
<path d="M988.8 812.3H1103.2" stroke="#0000FF" stroke-width="7"/>
<path d="M1037.7 804.1L1054.1 820.5M1037.7 820.5L1054.1 804.1" stroke="#0000FF" stroke-width="7" fill="none"/><path d="M1045.9 800.7L1045.9 823.9M1034.3 812.3L1057.5 812.3" stroke="#0000FF" stroke-width="6.2" fill="none"/>
<text x="1112.1" y="825.1">C-LRT</text>
<path d="M988.8 858.7H1103.2" stroke="#FF8000" stroke-width="7"/>
<polygon points="1045.9,844.4 1057.9,858.7 1045.9,873 1033.9,858.7" fill="none" stroke="#FF8000" stroke-width="6.8" stroke-linejoin="miter" stroke-miterlimit="10"/>
<text x="1112.1" y="871.5">T-AMF</text>
<path d="M988.8 905.1H1103.2" stroke="#00FFFF" stroke-width="7"/>
<path d="M1037.7 896.9L1054.1 913.3M1037.7 913.3L1054.1 896.9" stroke="#00FFFF" stroke-width="7" fill="none"/>
<text x="1112.1" y="917.9">GLRT</text>
<path d="M988.8 951.5H1103.2" stroke="#00FF00" stroke-width="7"/>
<polygon points="1031.35,951.5 1053.17,938.9 1053.17,964.1" fill="none" stroke="#00FF00" stroke-width="7" stroke-linejoin="miter" stroke-miterlimit="10"/>
<text x="1112.1" y="964.3">MP-AMF</text>
</g>
<g font-family="'Liberation Serif', serif" font-size="85" fill="#000" text-anchor="middle">
<text x="648.8" y="1237">(</text>
<text x="685.8" y="1237.9" font-weight="bold">b</text>
<text x="725.7" y="1237">)</text>
</g>
<path d="M392.2 1382V2347M636.4 1382V2347M880.6 1382V2347M1124.8 1382V2347M148 2250.5H1369M148 2154H1369M148 2057.5H1369M148 1961H1369M148 1864.5H1369M148 1768H1369M148 1671.5H1369M148 1575H1369M148 1478.5H1369" stroke="#DFDFDF" stroke-width="1.9" fill="none"/>
<path d="M148 1382H1369V2347H148ZM148 2347v-13.2M148 1382v13.2M392.2 2347v-13.2M392.2 1382v13.2M636.4 2347v-13.2M636.4 1382v13.2M880.6 2347v-13.2M880.6 1382v13.2M1124.8 2347v-13.2M1124.8 1382v13.2M1369 2347v-13.2M1369 1382v13.2M148 2347h13.2M1369 2347h-13.2M148 2250.5h13.2M1369 2250.5h-13.2M148 2154h13.2M1369 2154h-13.2M148 2057.5h13.2M1369 2057.5h-13.2M148 1961h13.2M1369 1961h-13.2M148 1864.5h13.2M1369 1864.5h-13.2M148 1768h13.2M1369 1768h-13.2M148 1671.5h13.2M1369 1671.5h-13.2M148 1575h13.2M1369 1575h-13.2M148 1478.5h13.2M1369 1478.5h-13.2M148 1382h13.2M1369 1382h-13.2" stroke="#262626" stroke-width="1.9" fill="none" stroke-linecap="butt" stroke-linejoin="miter"/>
<g font-family="'Liberation Sans', sans-serif" font-size="37" fill="#262626">
<text x="120.37" y="2400.7">-</text><path fill="#262626" d="M144.59 2373.9V2400.7H141.59V2381.8H135.49V2379.4Q140.29 2379.2 142.29 2373.9Z"/><text x="153.26" y="2400.7">0</text>
<text x="374.85" y="2400.7">-5</text>
<text x="625.21" y="2400.7">0</text>
<text x="869.41" y="2400.7">5</text>
<path fill="#262626" d="M1116.13 2373.9V2400.7H1113.13V2381.8H1107.03V2379.4Q1111.83 2379.2 1113.83 2373.9Z"/><text x="1124.8" y="2400.7">0</text>
<path fill="#262626" d="M1360.33 2373.9V2400.7H1357.33V2381.8H1351.23V2379.4Q1356.03 2379.2 1358.03 2373.9Z"/><text x="1369" y="2400.7">5</text>
<text x="110.93" y="2361.9">0</text>
<text x="80.07" y="2265.4">0.</text><path fill="#262626" d="M122.83 2238.6V2265.4H119.83V2246.5H113.73V2244.1Q118.53 2243.9 120.53 2238.6Z"/>
<text x="80.07" y="2168.9">0.2</text>
<text x="80.07" y="2072.4">0.3</text>
<text x="80.07" y="1975.9">0.4</text>
<text x="80.07" y="1879.4">0.5</text>
<text x="80.07" y="1782.9">0.6</text>
<text x="80.07" y="1686.4">0.7</text>
<text x="80.07" y="1589.9">0.8</text>
<text x="80.07" y="1493.4">0.9</text>
<path fill="#262626" d="M122.83 1370.1V1396.9H119.83V1378H113.73V1375.6Q118.53 1375.4 120.53 1370.1Z"/>
</g>
<g font-family="'Liberation Sans', sans-serif" font-size="40.7" fill="#262626">
<text x="757.7" y="2455.4" text-anchor="middle">SNR (dB)</text>
<text transform="translate(57.3 1863.5) rotate(-90)" text-anchor="middle">Pd</text>
</g>
<polyline points="148,2346.03 196.84,2346.03 245.68,2344.68 294.52,2342.18 343.36,2335.61 392.2,2316.99 441.04,2264.3 489.88,2161.72 538.72,2014.85 587.56,1854.27 636.4,1710.1 685.24,1598.35 734.08,1519.99 782.92,1467.69 831.76,1435.65 880.6,1414.33 929.44,1401.3 978.28,1393.58 1027.12,1389.14 1075.96,1386.15 1124.8,1383.93 1173.64,1383.16 1222.48,1382.58 1271.32,1382.29 1320.16,1382.1 1369,1382" fill="none" stroke="#FF0000" stroke-width="6.5" stroke-linejoin="round"/>
<circle cx="148" cy="2346.03" r="10.9" fill="none" stroke="#FF0000" stroke-width="6.5"/>
<circle cx="196.84" cy="2346.03" r="10.9" fill="none" stroke="#FF0000" stroke-width="6.5"/>
<circle cx="245.68" cy="2344.68" r="10.9" fill="none" stroke="#FF0000" stroke-width="6.5"/>
<circle cx="294.52" cy="2342.18" r="10.9" fill="none" stroke="#FF0000" stroke-width="6.5"/>
<circle cx="343.36" cy="2335.61" r="10.9" fill="none" stroke="#FF0000" stroke-width="6.5"/>
<circle cx="392.2" cy="2316.99" r="10.9" fill="none" stroke="#FF0000" stroke-width="6.5"/>
<circle cx="441.04" cy="2264.3" r="10.9" fill="none" stroke="#FF0000" stroke-width="6.5"/>
<circle cx="489.88" cy="2161.72" r="10.9" fill="none" stroke="#FF0000" stroke-width="6.5"/>
<circle cx="538.72" cy="2014.85" r="10.9" fill="none" stroke="#FF0000" stroke-width="6.5"/>
<circle cx="587.56" cy="1854.27" r="10.9" fill="none" stroke="#FF0000" stroke-width="6.5"/>
<circle cx="636.4" cy="1710.1" r="10.9" fill="none" stroke="#FF0000" stroke-width="6.5"/>
<circle cx="685.24" cy="1598.35" r="10.9" fill="none" stroke="#FF0000" stroke-width="6.5"/>
<circle cx="734.08" cy="1519.99" r="10.9" fill="none" stroke="#FF0000" stroke-width="6.5"/>
<circle cx="782.92" cy="1467.69" r="10.9" fill="none" stroke="#FF0000" stroke-width="6.5"/>
<circle cx="831.76" cy="1435.65" r="10.9" fill="none" stroke="#FF0000" stroke-width="6.5"/>
<circle cx="880.6" cy="1414.33" r="10.9" fill="none" stroke="#FF0000" stroke-width="6.5"/>
<circle cx="929.44" cy="1401.3" r="10.9" fill="none" stroke="#FF0000" stroke-width="6.5"/>
<circle cx="978.28" cy="1393.58" r="10.9" fill="none" stroke="#FF0000" stroke-width="6.5"/>
<circle cx="1027.12" cy="1389.14" r="10.9" fill="none" stroke="#FF0000" stroke-width="6.5"/>
<circle cx="1075.96" cy="1386.15" r="10.9" fill="none" stroke="#FF0000" stroke-width="6.5"/>
<circle cx="1124.8" cy="1383.93" r="10.9" fill="none" stroke="#FF0000" stroke-width="6.5"/>
<circle cx="1173.64" cy="1383.16" r="10.9" fill="none" stroke="#FF0000" stroke-width="6.5"/>
<circle cx="1222.48" cy="1382.58" r="10.9" fill="none" stroke="#FF0000" stroke-width="6.5"/>
<circle cx="1271.32" cy="1382.29" r="10.9" fill="none" stroke="#FF0000" stroke-width="6.5"/>
<circle cx="1320.16" cy="1382.1" r="10.9" fill="none" stroke="#FF0000" stroke-width="6.5"/>
<circle cx="1369" cy="1382" r="10.9" fill="none" stroke="#FF0000" stroke-width="6.5"/>
<polyline points="148,2345.36 196.84,2345.36 245.68,2345.36 294.52,2345.36 343.36,2345.36 392.2,2342.18 441.04,2333.88 489.88,2309.27 538.72,2251.85 587.56,2141.45 636.4,1990.82 685.24,1830.63 734.08,1690.51 782.92,1584.17 831.76,1509.86 880.6,1462.58 929.44,1431.7 978.28,1411.91 1027.12,1399.85 1075.96,1392.62 1124.8,1388.47 1173.64,1386.34 1222.48,1384.32 1271.32,1383.35 1320.16,1382.68 1369,1382.29" fill="none" stroke="#000000" stroke-width="7.6" stroke-linejoin="round"/>
<polygon points="148,2325.76 152.7,2338.89 166.64,2339.3 155.61,2347.83 159.52,2361.22 148,2353.36 136.48,2361.22 140.39,2347.83 129.36,2339.3 143.3,2338.89" fill="#000000" stroke="#000000" stroke-width="1.2" stroke-linejoin="miter" stroke-miterlimit="2"/>
<polygon points="196.84,2325.76 201.54,2338.89 215.48,2339.3 204.45,2347.83 208.36,2361.22 196.84,2353.36 185.32,2361.22 189.23,2347.83 178.2,2339.3 192.14,2338.89" fill="#000000" stroke="#000000" stroke-width="1.2" stroke-linejoin="miter" stroke-miterlimit="2"/>
<polygon points="245.68,2325.76 250.38,2338.89 264.32,2339.3 253.29,2347.83 257.2,2361.22 245.68,2353.36 234.16,2361.22 238.07,2347.83 227.04,2339.3 240.98,2338.89" fill="#000000" stroke="#000000" stroke-width="1.2" stroke-linejoin="miter" stroke-miterlimit="2"/>
<polygon points="294.52,2325.76 299.22,2338.89 313.16,2339.3 302.13,2347.83 306.04,2361.22 294.52,2353.36 283,2361.22 286.91,2347.83 275.88,2339.3 289.82,2338.89" fill="#000000" stroke="#000000" stroke-width="1.2" stroke-linejoin="miter" stroke-miterlimit="2"/>
<polygon points="343.36,2325.76 348.06,2338.89 362,2339.3 350.97,2347.83 354.88,2361.22 343.36,2353.36 331.84,2361.22 335.75,2347.83 324.72,2339.3 338.66,2338.89" fill="#000000" stroke="#000000" stroke-width="1.2" stroke-linejoin="miter" stroke-miterlimit="2"/>
<polygon points="392.2,2322.58 396.9,2335.7 410.84,2336.12 399.81,2344.65 403.72,2358.03 392.2,2350.18 380.68,2358.03 384.59,2344.65 373.56,2336.12 387.5,2335.7" fill="#000000" stroke="#000000" stroke-width="1.2" stroke-linejoin="miter" stroke-miterlimit="2"/>
<polygon points="441.04,2314.28 445.74,2327.4 459.68,2327.82 448.65,2336.35 452.56,2349.73 441.04,2341.88 429.52,2349.73 433.43,2336.35 422.4,2327.82 436.34,2327.4" fill="#000000" stroke="#000000" stroke-width="1.2" stroke-linejoin="miter" stroke-miterlimit="2"/>
<polygon points="489.88,2289.67 494.58,2302.8 508.52,2303.21 497.49,2311.74 501.4,2325.13 489.88,2317.27 478.36,2325.13 482.27,2311.74 471.24,2303.21 485.18,2302.8" fill="#000000" stroke="#000000" stroke-width="1.2" stroke-linejoin="miter" stroke-miterlimit="2"/>
<polygon points="538.72,2232.25 543.42,2245.38 557.36,2245.79 546.33,2254.32 550.24,2267.71 538.72,2259.85 527.2,2267.71 531.11,2254.32 520.08,2245.79 534.02,2245.38" fill="#000000" stroke="#000000" stroke-width="1.2" stroke-linejoin="miter" stroke-miterlimit="2"/>
<polygon points="587.56,2121.86 592.26,2134.98 606.2,2135.4 595.17,2143.93 599.08,2157.31 587.56,2149.45 576.04,2157.31 579.95,2143.93 568.92,2135.4 582.86,2134.98" fill="#000000" stroke="#000000" stroke-width="1.2" stroke-linejoin="miter" stroke-miterlimit="2"/>
<polygon points="636.4,1971.22 641.1,1984.35 655.04,1984.76 644.01,1993.29 647.92,2006.68 636.4,1998.82 624.88,2006.68 628.79,1993.29 617.76,1984.76 631.7,1984.35" fill="#000000" stroke="#000000" stroke-width="1.2" stroke-linejoin="miter" stroke-miterlimit="2"/>
<polygon points="685.24,1811.03 689.94,1824.16 703.88,1824.57 692.85,1833.1 696.76,1846.49 685.24,1838.63 673.72,1846.49 677.63,1833.1 666.6,1824.57 680.54,1824.16" fill="#000000" stroke="#000000" stroke-width="1.2" stroke-linejoin="miter" stroke-miterlimit="2"/>
<polygon points="734.08,1670.91 738.78,1684.04 752.72,1684.45 741.69,1692.98 745.6,1706.37 734.08,1698.51 722.56,1706.37 726.47,1692.98 715.44,1684.45 729.38,1684.04" fill="#000000" stroke="#000000" stroke-width="1.2" stroke-linejoin="miter" stroke-miterlimit="2"/>
<polygon points="782.92,1564.57 787.62,1577.7 801.56,1578.11 790.53,1586.64 794.44,1600.02 782.92,1592.17 771.4,1600.02 775.31,1586.64 764.28,1578.11 778.22,1577.7" fill="#000000" stroke="#000000" stroke-width="1.2" stroke-linejoin="miter" stroke-miterlimit="2"/>
<polygon points="831.76,1490.26 836.46,1503.39 850.4,1503.81 839.37,1512.33 843.28,1525.72 831.76,1517.86 820.24,1525.72 824.15,1512.33 813.12,1503.81 827.06,1503.39" fill="#000000" stroke="#000000" stroke-width="1.2" stroke-linejoin="miter" stroke-miterlimit="2"/>
<polygon points="880.6,1442.98 885.3,1456.11 899.24,1456.52 888.21,1465.05 892.12,1478.43 880.6,1470.58 869.08,1478.43 872.99,1465.05 861.96,1456.52 875.9,1456.11" fill="#000000" stroke="#000000" stroke-width="1.2" stroke-linejoin="miter" stroke-miterlimit="2"/>
<polygon points="929.44,1412.1 934.14,1425.23 948.08,1425.64 937.05,1434.17 940.96,1447.55 929.44,1439.7 917.92,1447.55 921.83,1434.17 910.8,1425.64 924.74,1425.23" fill="#000000" stroke="#000000" stroke-width="1.2" stroke-linejoin="miter" stroke-miterlimit="2"/>
<polygon points="978.28,1392.32 982.98,1405.44 996.92,1405.86 985.89,1414.39 989.8,1427.77 978.28,1419.91 966.76,1427.77 970.67,1414.39 959.64,1405.86 973.58,1405.44" fill="#000000" stroke="#000000" stroke-width="1.2" stroke-linejoin="miter" stroke-miterlimit="2"/>
<polygon points="1027.12,1380.25 1031.82,1393.38 1045.76,1393.8 1034.73,1402.32 1038.64,1415.71 1027.12,1407.85 1015.6,1415.71 1019.51,1402.32 1008.48,1393.8 1022.42,1393.38" fill="#000000" stroke="#000000" stroke-width="1.2" stroke-linejoin="miter" stroke-miterlimit="2"/>
<polygon points="1075.96,1373.02 1080.66,1386.14 1094.6,1386.56 1083.57,1395.09 1087.48,1408.47 1075.96,1400.62 1064.44,1408.47 1068.35,1395.09 1057.32,1386.56 1071.26,1386.14" fill="#000000" stroke="#000000" stroke-width="1.2" stroke-linejoin="miter" stroke-miterlimit="2"/>
<polygon points="1124.8,1368.87 1129.5,1381.99 1143.44,1382.41 1132.41,1390.94 1136.32,1404.32 1124.8,1396.47 1113.28,1404.32 1117.19,1390.94 1106.16,1382.41 1120.1,1381.99" fill="#000000" stroke="#000000" stroke-width="1.2" stroke-linejoin="miter" stroke-miterlimit="2"/>
<polygon points="1173.64,1366.74 1178.34,1379.87 1192.28,1380.29 1181.25,1388.81 1185.16,1402.2 1173.64,1394.34 1162.12,1402.2 1166.03,1388.81 1155,1380.29 1168.94,1379.87" fill="#000000" stroke="#000000" stroke-width="1.2" stroke-linejoin="miter" stroke-miterlimit="2"/>
<polygon points="1222.48,1364.72 1227.18,1377.84 1241.12,1378.26 1230.09,1386.79 1234,1400.17 1222.48,1392.32 1210.96,1400.17 1214.87,1386.79 1203.84,1378.26 1217.78,1377.84" fill="#000000" stroke="#000000" stroke-width="1.2" stroke-linejoin="miter" stroke-miterlimit="2"/>
<polygon points="1271.32,1363.75 1276.02,1376.88 1289.96,1377.29 1278.93,1385.82 1282.84,1399.21 1271.32,1391.35 1259.8,1399.21 1263.71,1385.82 1252.68,1377.29 1266.62,1376.88" fill="#000000" stroke="#000000" stroke-width="1.2" stroke-linejoin="miter" stroke-miterlimit="2"/>
<polygon points="1320.16,1363.08 1324.86,1376.2 1338.8,1376.62 1327.77,1385.15 1331.68,1398.53 1320.16,1390.68 1308.64,1398.53 1312.55,1385.15 1301.52,1376.62 1315.46,1376.2" fill="#000000" stroke="#000000" stroke-width="1.2" stroke-linejoin="miter" stroke-miterlimit="2"/>
<polygon points="1369,1362.69 1373.7,1375.82 1387.64,1376.23 1376.61,1384.76 1380.52,1398.15 1369,1390.29 1357.48,1398.15 1361.39,1384.76 1350.36,1376.23 1364.3,1375.82" fill="#000000" stroke="#000000" stroke-width="1.2" stroke-linejoin="miter" stroke-miterlimit="2"/>
<polyline points="148,2345.55 196.84,2345.55 245.68,2345.55 294.52,2345.55 343.36,2345.55 392.2,2343.14 441.04,2336.39 489.88,2321.04 538.72,2283.89 587.56,2209.68 636.4,2094.85 685.24,1954.73 734.08,1813.07 782.92,1690.51 831.76,1592.66 880.6,1522.89 929.44,1475.12 978.28,1443.47 1027.12,1421.76 1075.96,1407.28 1124.8,1397.15 1173.64,1391.65 1222.48,1387.6 1271.32,1384.99 1320.16,1383.74 1369,1382.97" fill="none" stroke="#FF00FF" stroke-width="7" stroke-linejoin="round"/>
<polygon points="148,2331 135.4,2352.83 160.6,2352.83" fill="none" stroke="#FF00FF" stroke-width="6.5" stroke-linejoin="miter" stroke-miterlimit="10"/>
<polygon points="196.84,2331 184.24,2352.83 209.44,2352.83" fill="none" stroke="#FF00FF" stroke-width="6.5" stroke-linejoin="miter" stroke-miterlimit="10"/>
<polygon points="245.68,2331 233.08,2352.83 258.28,2352.83" fill="none" stroke="#FF00FF" stroke-width="6.5" stroke-linejoin="miter" stroke-miterlimit="10"/>
<polygon points="294.52,2331 281.92,2352.83 307.12,2352.83" fill="none" stroke="#FF00FF" stroke-width="6.5" stroke-linejoin="miter" stroke-miterlimit="10"/>
<polygon points="343.36,2331 330.76,2352.83 355.96,2352.83" fill="none" stroke="#FF00FF" stroke-width="6.5" stroke-linejoin="miter" stroke-miterlimit="10"/>
<polygon points="392.2,2328.59 379.6,2350.41 404.8,2350.41" fill="none" stroke="#FF00FF" stroke-width="6.5" stroke-linejoin="miter" stroke-miterlimit="10"/>
<polygon points="441.04,2321.84 428.44,2343.66 453.64,2343.66" fill="none" stroke="#FF00FF" stroke-width="6.5" stroke-linejoin="miter" stroke-miterlimit="10"/>
<polygon points="489.88,2306.49 477.28,2328.32 502.48,2328.32" fill="none" stroke="#FF00FF" stroke-width="6.5" stroke-linejoin="miter" stroke-miterlimit="10"/>
<polygon points="538.72,2269.34 526.12,2291.16 551.32,2291.16" fill="none" stroke="#FF00FF" stroke-width="6.5" stroke-linejoin="miter" stroke-miterlimit="10"/>
<polygon points="587.56,2195.13 574.96,2216.96 600.16,2216.96" fill="none" stroke="#FF00FF" stroke-width="6.5" stroke-linejoin="miter" stroke-miterlimit="10"/>
<polygon points="636.4,2080.3 623.8,2102.12 649,2102.12" fill="none" stroke="#FF00FF" stroke-width="6.5" stroke-linejoin="miter" stroke-miterlimit="10"/>
<polygon points="685.24,1940.18 672.64,1962 697.84,1962" fill="none" stroke="#FF00FF" stroke-width="6.5" stroke-linejoin="miter" stroke-miterlimit="10"/>
<polygon points="734.08,1798.52 721.48,1820.34 746.68,1820.34" fill="none" stroke="#FF00FF" stroke-width="6.5" stroke-linejoin="miter" stroke-miterlimit="10"/>
<polygon points="782.92,1675.96 770.32,1697.79 795.52,1697.79" fill="none" stroke="#FF00FF" stroke-width="6.5" stroke-linejoin="miter" stroke-miterlimit="10"/>
<polygon points="831.76,1578.11 819.16,1599.93 844.36,1599.93" fill="none" stroke="#FF00FF" stroke-width="6.5" stroke-linejoin="miter" stroke-miterlimit="10"/>
<polygon points="880.6,1508.34 868,1530.16 893.2,1530.16" fill="none" stroke="#FF00FF" stroke-width="6.5" stroke-linejoin="miter" stroke-miterlimit="10"/>
<polygon points="929.44,1460.57 916.84,1482.4 942.04,1482.4" fill="none" stroke="#FF00FF" stroke-width="6.5" stroke-linejoin="miter" stroke-miterlimit="10"/>
<polygon points="978.28,1428.92 965.68,1450.75 990.88,1450.75" fill="none" stroke="#FF00FF" stroke-width="6.5" stroke-linejoin="miter" stroke-miterlimit="10"/>
<polygon points="1027.12,1407.21 1014.52,1429.03 1039.72,1429.03" fill="none" stroke="#FF00FF" stroke-width="6.5" stroke-linejoin="miter" stroke-miterlimit="10"/>
<polygon points="1075.96,1392.73 1063.36,1414.56 1088.56,1414.56" fill="none" stroke="#FF00FF" stroke-width="6.5" stroke-linejoin="miter" stroke-miterlimit="10"/>
<polygon points="1124.8,1382.6 1112.2,1404.43 1137.4,1404.43" fill="none" stroke="#FF00FF" stroke-width="6.5" stroke-linejoin="miter" stroke-miterlimit="10"/>
<polygon points="1173.64,1377.1 1161.04,1398.92 1186.24,1398.92" fill="none" stroke="#FF00FF" stroke-width="6.5" stroke-linejoin="miter" stroke-miterlimit="10"/>
<polygon points="1222.48,1373.05 1209.88,1394.87 1235.08,1394.87" fill="none" stroke="#FF00FF" stroke-width="6.5" stroke-linejoin="miter" stroke-miterlimit="10"/>
<polygon points="1271.32,1370.44 1258.72,1392.27 1283.92,1392.27" fill="none" stroke="#FF00FF" stroke-width="6.5" stroke-linejoin="miter" stroke-miterlimit="10"/>
<polygon points="1320.16,1369.19 1307.56,1391.01 1332.76,1391.01" fill="none" stroke="#FF00FF" stroke-width="6.5" stroke-linejoin="miter" stroke-miterlimit="10"/>
<polygon points="1369,1368.42 1356.4,1390.24 1381.6,1390.24" fill="none" stroke="#FF00FF" stroke-width="6.5" stroke-linejoin="miter" stroke-miterlimit="10"/>
<polyline points="148,2346.52 196.84,2346.52 245.68,2346.52 294.52,2346.52 343.36,2346.52 392.2,2346.52 441.04,2346.52 489.88,2346.52 538.72,2345.36 587.56,2341.21 636.4,2329.63 685.24,2300.78 734.08,2238.34 782.92,2135.38 831.76,2000.28 880.6,1856.97 929.44,1726.99 978.28,1620.93 1027.12,1544.12 1075.96,1489.02 1124.8,1451.48 1173.64,1427.16 1222.48,1412.11 1271.32,1402.75 1320.16,1395.32 1369,1390.88" fill="none" stroke="#0000FF" stroke-width="7.4" stroke-linejoin="round"/>
<path d="M139.8 2338.32L156.2 2354.72M139.8 2354.72L156.2 2338.32" stroke="#0000FF" stroke-width="7" fill="none"/><path d="M148 2334.92L148 2358.12M136.4 2346.52L159.6 2346.52" stroke="#0000FF" stroke-width="6.2" fill="none"/>
<path d="M188.64 2338.32L205.04 2354.72M188.64 2354.72L205.04 2338.32" stroke="#0000FF" stroke-width="7" fill="none"/><path d="M196.84 2334.92L196.84 2358.12M185.24 2346.52L208.44 2346.52" stroke="#0000FF" stroke-width="6.2" fill="none"/>
<path d="M237.48 2338.32L253.88 2354.72M237.48 2354.72L253.88 2338.32" stroke="#0000FF" stroke-width="7" fill="none"/><path d="M245.68 2334.92L245.68 2358.12M234.08 2346.52L257.28 2346.52" stroke="#0000FF" stroke-width="6.2" fill="none"/>
<path d="M286.32 2338.32L302.72 2354.72M286.32 2354.72L302.72 2338.32" stroke="#0000FF" stroke-width="7" fill="none"/><path d="M294.52 2334.92L294.52 2358.12M282.92 2346.52L306.12 2346.52" stroke="#0000FF" stroke-width="6.2" fill="none"/>
<path d="M335.16 2338.32L351.56 2354.72M335.16 2354.72L351.56 2338.32" stroke="#0000FF" stroke-width="7" fill="none"/><path d="M343.36 2334.92L343.36 2358.12M331.76 2346.52L354.96 2346.52" stroke="#0000FF" stroke-width="6.2" fill="none"/>
<path d="M384 2338.32L400.4 2354.72M384 2354.72L400.4 2338.32" stroke="#0000FF" stroke-width="7" fill="none"/><path d="M392.2 2334.92L392.2 2358.12M380.6 2346.52L403.8 2346.52" stroke="#0000FF" stroke-width="6.2" fill="none"/>
<path d="M432.84 2338.32L449.24 2354.72M432.84 2354.72L449.24 2338.32" stroke="#0000FF" stroke-width="7" fill="none"/><path d="M441.04 2334.92L441.04 2358.12M429.44 2346.52L452.64 2346.52" stroke="#0000FF" stroke-width="6.2" fill="none"/>
<path d="M481.68 2338.32L498.08 2354.72M481.68 2354.72L498.08 2338.32" stroke="#0000FF" stroke-width="7" fill="none"/><path d="M489.88 2334.92L489.88 2358.12M478.28 2346.52L501.48 2346.52" stroke="#0000FF" stroke-width="6.2" fill="none"/>
<path d="M530.52 2337.16L546.92 2353.56M530.52 2353.56L546.92 2337.16" stroke="#0000FF" stroke-width="7" fill="none"/><path d="M538.72 2333.76L538.72 2356.96M527.12 2345.36L550.32 2345.36" stroke="#0000FF" stroke-width="6.2" fill="none"/>
<path d="M579.36 2333.01L595.76 2349.41M579.36 2349.41L595.76 2333.01" stroke="#0000FF" stroke-width="7" fill="none"/><path d="M587.56 2329.61L587.56 2352.81M575.96 2341.21L599.16 2341.21" stroke="#0000FF" stroke-width="6.2" fill="none"/>
<path d="M628.2 2321.43L644.6 2337.83M628.2 2337.83L644.6 2321.43" stroke="#0000FF" stroke-width="7" fill="none"/><path d="M636.4 2318.03L636.4 2341.23M624.8 2329.63L648 2329.63" stroke="#0000FF" stroke-width="6.2" fill="none"/>
<path d="M677.04 2292.58L693.44 2308.98M677.04 2308.98L693.44 2292.58" stroke="#0000FF" stroke-width="7" fill="none"/><path d="M685.24 2289.18L685.24 2312.38M673.64 2300.78L696.84 2300.78" stroke="#0000FF" stroke-width="6.2" fill="none"/>
<path d="M725.88 2230.14L742.28 2246.54M725.88 2246.54L742.28 2230.14" stroke="#0000FF" stroke-width="7" fill="none"/><path d="M734.08 2226.74L734.08 2249.94M722.48 2238.34L745.68 2238.34" stroke="#0000FF" stroke-width="6.2" fill="none"/>
<path d="M774.72 2127.18L791.12 2143.58M774.72 2143.58L791.12 2127.18" stroke="#0000FF" stroke-width="7" fill="none"/><path d="M782.92 2123.78L782.92 2146.98M771.32 2135.38L794.52 2135.38" stroke="#0000FF" stroke-width="6.2" fill="none"/>
<path d="M823.56 1992.08L839.96 2008.48M823.56 2008.48L839.96 1992.08" stroke="#0000FF" stroke-width="7" fill="none"/><path d="M831.76 1988.68L831.76 2011.88M820.16 2000.28L843.36 2000.28" stroke="#0000FF" stroke-width="6.2" fill="none"/>
<path d="M872.4 1848.77L888.8 1865.17M872.4 1865.17L888.8 1848.77" stroke="#0000FF" stroke-width="7" fill="none"/><path d="M880.6 1845.37L880.6 1868.57M869 1856.97L892.2 1856.97" stroke="#0000FF" stroke-width="6.2" fill="none"/>
<path d="M921.24 1718.79L937.64 1735.19M921.24 1735.19L937.64 1718.79" stroke="#0000FF" stroke-width="7" fill="none"/><path d="M929.44 1715.39L929.44 1738.59M917.84 1726.99L941.04 1726.99" stroke="#0000FF" stroke-width="6.2" fill="none"/>
<path d="M970.08 1612.73L986.48 1629.13M970.08 1629.13L986.48 1612.73" stroke="#0000FF" stroke-width="7" fill="none"/><path d="M978.28 1609.33L978.28 1632.53M966.68 1620.93L989.88 1620.93" stroke="#0000FF" stroke-width="6.2" fill="none"/>
<path d="M1018.92 1535.92L1035.32 1552.32M1018.92 1552.32L1035.32 1535.92" stroke="#0000FF" stroke-width="7" fill="none"/><path d="M1027.12 1532.52L1027.12 1555.72M1015.52 1544.12L1038.72 1544.12" stroke="#0000FF" stroke-width="6.2" fill="none"/>
<path d="M1067.76 1480.82L1084.16 1497.22M1067.76 1497.22L1084.16 1480.82" stroke="#0000FF" stroke-width="7" fill="none"/><path d="M1075.96 1477.42L1075.96 1500.62M1064.36 1489.02L1087.56 1489.02" stroke="#0000FF" stroke-width="6.2" fill="none"/>
<path d="M1116.6 1443.28L1133 1459.68M1116.6 1459.68L1133 1443.28" stroke="#0000FF" stroke-width="7" fill="none"/><path d="M1124.8 1439.88L1124.8 1463.08M1113.2 1451.48L1136.4 1451.48" stroke="#0000FF" stroke-width="6.2" fill="none"/>
<path d="M1165.44 1418.96L1181.84 1435.36M1165.44 1435.36L1181.84 1418.96" stroke="#0000FF" stroke-width="7" fill="none"/><path d="M1173.64 1415.56L1173.64 1438.76M1162.04 1427.16L1185.24 1427.16" stroke="#0000FF" stroke-width="6.2" fill="none"/>
<path d="M1214.28 1403.91L1230.68 1420.31M1214.28 1420.31L1230.68 1403.91" stroke="#0000FF" stroke-width="7" fill="none"/><path d="M1222.48 1400.51L1222.48 1423.71M1210.88 1412.11L1234.08 1412.11" stroke="#0000FF" stroke-width="6.2" fill="none"/>
<path d="M1263.12 1394.55L1279.52 1410.95M1263.12 1410.95L1279.52 1394.55" stroke="#0000FF" stroke-width="7" fill="none"/><path d="M1271.32 1391.15L1271.32 1414.35M1259.72 1402.75L1282.92 1402.75" stroke="#0000FF" stroke-width="6.2" fill="none"/>
<path d="M1311.96 1387.12L1328.36 1403.52M1311.96 1403.52L1328.36 1387.12" stroke="#0000FF" stroke-width="7" fill="none"/><path d="M1320.16 1383.72L1320.16 1406.92M1308.56 1395.32L1331.76 1395.32" stroke="#0000FF" stroke-width="6.2" fill="none"/>
<path d="M1360.8 1382.68L1377.2 1399.08M1360.8 1399.08L1377.2 1382.68" stroke="#0000FF" stroke-width="7" fill="none"/><path d="M1369 1379.28L1369 1402.48M1357.4 1390.88L1380.6 1390.88" stroke="#0000FF" stroke-width="6.2" fill="none"/>
<polyline points="148,2346.42 196.84,2346.42 245.68,2346.42 294.52,2346.42 343.36,2346.42 392.2,2346.42 441.04,2346.42 489.88,2345.36 538.72,2341.21 587.56,2329.63 636.4,2299.14 685.24,2227.24 734.08,2102.57 782.92,1942.95 831.76,1785.08 880.6,1655.1 929.44,1557.63 978.28,1491.53 1027.12,1449.55 1075.96,1422.53 1124.8,1406.8 1173.64,1396.47 1222.48,1389.53 1271.32,1386.05 1320.16,1384.12 1369,1383.16" fill="none" stroke="#FF8000" stroke-width="7.4" stroke-linejoin="round"/>
<polygon points="148,2332.12 160,2346.42 148,2360.72 136,2346.42" fill="none" stroke="#FF8000" stroke-width="6.8" stroke-linejoin="miter" stroke-miterlimit="10"/>
<polygon points="196.84,2332.12 208.84,2346.42 196.84,2360.72 184.84,2346.42" fill="none" stroke="#FF8000" stroke-width="6.8" stroke-linejoin="miter" stroke-miterlimit="10"/>
<polygon points="245.68,2332.12 257.68,2346.42 245.68,2360.72 233.68,2346.42" fill="none" stroke="#FF8000" stroke-width="6.8" stroke-linejoin="miter" stroke-miterlimit="10"/>
<polygon points="294.52,2332.12 306.52,2346.42 294.52,2360.72 282.52,2346.42" fill="none" stroke="#FF8000" stroke-width="6.8" stroke-linejoin="miter" stroke-miterlimit="10"/>
<polygon points="343.36,2332.12 355.36,2346.42 343.36,2360.72 331.36,2346.42" fill="none" stroke="#FF8000" stroke-width="6.8" stroke-linejoin="miter" stroke-miterlimit="10"/>
<polygon points="392.2,2332.12 404.2,2346.42 392.2,2360.72 380.2,2346.42" fill="none" stroke="#FF8000" stroke-width="6.8" stroke-linejoin="miter" stroke-miterlimit="10"/>
<polygon points="441.04,2332.12 453.04,2346.42 441.04,2360.72 429.04,2346.42" fill="none" stroke="#FF8000" stroke-width="6.8" stroke-linejoin="miter" stroke-miterlimit="10"/>
<polygon points="489.88,2331.06 501.88,2345.36 489.88,2359.66 477.88,2345.36" fill="none" stroke="#FF8000" stroke-width="6.8" stroke-linejoin="miter" stroke-miterlimit="10"/>
<polygon points="538.72,2326.91 550.72,2341.21 538.72,2355.51 526.72,2341.21" fill="none" stroke="#FF8000" stroke-width="6.8" stroke-linejoin="miter" stroke-miterlimit="10"/>
<polygon points="587.56,2315.33 599.56,2329.63 587.56,2343.93 575.56,2329.63" fill="none" stroke="#FF8000" stroke-width="6.8" stroke-linejoin="miter" stroke-miterlimit="10"/>
<polygon points="636.4,2284.84 648.4,2299.14 636.4,2313.44 624.4,2299.14" fill="none" stroke="#FF8000" stroke-width="6.8" stroke-linejoin="miter" stroke-miterlimit="10"/>
<polygon points="685.24,2212.94 697.24,2227.24 685.24,2241.54 673.24,2227.24" fill="none" stroke="#FF8000" stroke-width="6.8" stroke-linejoin="miter" stroke-miterlimit="10"/>
<polygon points="734.08,2088.27 746.08,2102.57 734.08,2116.87 722.08,2102.57" fill="none" stroke="#FF8000" stroke-width="6.8" stroke-linejoin="miter" stroke-miterlimit="10"/>
<polygon points="782.92,1928.65 794.92,1942.95 782.92,1957.25 770.92,1942.95" fill="none" stroke="#FF8000" stroke-width="6.8" stroke-linejoin="miter" stroke-miterlimit="10"/>
<polygon points="831.76,1770.78 843.76,1785.08 831.76,1799.38 819.76,1785.08" fill="none" stroke="#FF8000" stroke-width="6.8" stroke-linejoin="miter" stroke-miterlimit="10"/>
<polygon points="880.6,1640.8 892.6,1655.1 880.6,1669.39 868.6,1655.1" fill="none" stroke="#FF8000" stroke-width="6.8" stroke-linejoin="miter" stroke-miterlimit="10"/>
<polygon points="929.44,1543.33 941.44,1557.63 929.44,1571.93 917.44,1557.63" fill="none" stroke="#FF8000" stroke-width="6.8" stroke-linejoin="miter" stroke-miterlimit="10"/>
<polygon points="978.28,1477.23 990.28,1491.53 978.28,1505.83 966.28,1491.53" fill="none" stroke="#FF8000" stroke-width="6.8" stroke-linejoin="miter" stroke-miterlimit="10"/>
<polygon points="1027.12,1435.25 1039.12,1449.55 1027.12,1463.85 1015.12,1449.55" fill="none" stroke="#FF8000" stroke-width="6.8" stroke-linejoin="miter" stroke-miterlimit="10"/>
<polygon points="1075.96,1408.23 1087.96,1422.53 1075.96,1436.83 1063.96,1422.53" fill="none" stroke="#FF8000" stroke-width="6.8" stroke-linejoin="miter" stroke-miterlimit="10"/>
<polygon points="1124.8,1392.5 1136.8,1406.8 1124.8,1421.1 1112.8,1406.8" fill="none" stroke="#FF8000" stroke-width="6.8" stroke-linejoin="miter" stroke-miterlimit="10"/>
<polygon points="1173.64,1382.17 1185.64,1396.47 1173.64,1410.77 1161.64,1396.47" fill="none" stroke="#FF8000" stroke-width="6.8" stroke-linejoin="miter" stroke-miterlimit="10"/>
<polygon points="1222.48,1375.23 1234.48,1389.53 1222.48,1403.83 1210.48,1389.53" fill="none" stroke="#FF8000" stroke-width="6.8" stroke-linejoin="miter" stroke-miterlimit="10"/>
<polygon points="1271.32,1371.75 1283.32,1386.05 1271.32,1400.35 1259.32,1386.05" fill="none" stroke="#FF8000" stroke-width="6.8" stroke-linejoin="miter" stroke-miterlimit="10"/>
<polygon points="1320.16,1369.82 1332.16,1384.12 1320.16,1398.42 1308.16,1384.12" fill="none" stroke="#FF8000" stroke-width="6.8" stroke-linejoin="miter" stroke-miterlimit="10"/>
<polygon points="1369,1368.86 1381,1383.16 1369,1397.46 1357,1383.16" fill="none" stroke="#FF8000" stroke-width="6.8" stroke-linejoin="miter" stroke-miterlimit="10"/>
<polyline points="148,2346.42 196.84,2346.42 245.68,2346.42 294.52,2346.42 343.36,2346.42 392.2,2346.42 441.04,2346.42 489.88,2346.42 538.72,2344.68 587.56,2339.67 636.4,2326.16 685.24,2280.51 734.08,2186.71 782.92,2040.81 831.76,1872.22 880.6,1719.27 929.44,1601.34 978.28,1518.55 1027.12,1462.29 1075.96,1435.65 1124.8,1414.13 1173.64,1398.98 1222.48,1392.62 1271.32,1387.98 1320.16,1385.67 1369,1384.12" fill="none" stroke="#00FFFF" stroke-width="7.4" stroke-linejoin="round"/>
<path d="M139.8 2338.22L156.2 2354.62M139.8 2354.62L156.2 2338.22" stroke="#00FFFF" stroke-width="7" fill="none"/>
<path d="M188.64 2338.22L205.04 2354.62M188.64 2354.62L205.04 2338.22" stroke="#00FFFF" stroke-width="7" fill="none"/>
<path d="M237.48 2338.22L253.88 2354.62M237.48 2354.62L253.88 2338.22" stroke="#00FFFF" stroke-width="7" fill="none"/>
<path d="M286.32 2338.22L302.72 2354.62M286.32 2354.62L302.72 2338.22" stroke="#00FFFF" stroke-width="7" fill="none"/>
<path d="M335.16 2338.22L351.56 2354.62M335.16 2354.62L351.56 2338.22" stroke="#00FFFF" stroke-width="7" fill="none"/>
<path d="M384 2338.22L400.4 2354.62M384 2354.62L400.4 2338.22" stroke="#00FFFF" stroke-width="7" fill="none"/>
<path d="M432.84 2338.22L449.24 2354.62M432.84 2354.62L449.24 2338.22" stroke="#00FFFF" stroke-width="7" fill="none"/>
<path d="M481.68 2338.22L498.08 2354.62M481.68 2354.62L498.08 2338.22" stroke="#00FFFF" stroke-width="7" fill="none"/>
<path d="M530.52 2336.48L546.92 2352.88M530.52 2352.88L546.92 2336.48" stroke="#00FFFF" stroke-width="7" fill="none"/>
<path d="M579.36 2331.47L595.76 2347.87M579.36 2347.87L595.76 2331.47" stroke="#00FFFF" stroke-width="7" fill="none"/>
<path d="M628.2 2317.96L644.6 2334.36M628.2 2334.36L644.6 2317.96" stroke="#00FFFF" stroke-width="7" fill="none"/>
<path d="M677.04 2272.31L693.44 2288.71M677.04 2288.71L693.44 2272.31" stroke="#00FFFF" stroke-width="7" fill="none"/>
<path d="M725.88 2178.51L742.28 2194.91M725.88 2194.91L742.28 2178.51" stroke="#00FFFF" stroke-width="7" fill="none"/>
<path d="M774.72 2032.61L791.12 2049.01M774.72 2049.01L791.12 2032.61" stroke="#00FFFF" stroke-width="7" fill="none"/>
<path d="M823.56 1864.02L839.96 1880.42M823.56 1880.42L839.96 1864.02" stroke="#00FFFF" stroke-width="7" fill="none"/>
<path d="M872.4 1711.07L888.8 1727.47M872.4 1727.47L888.8 1711.07" stroke="#00FFFF" stroke-width="7" fill="none"/>
<path d="M921.24 1593.14L937.64 1609.54M921.24 1609.54L937.64 1593.14" stroke="#00FFFF" stroke-width="7" fill="none"/>
<path d="M970.08 1510.35L986.48 1526.75M970.08 1526.75L986.48 1510.35" stroke="#00FFFF" stroke-width="7" fill="none"/>
<path d="M1018.92 1454.09L1035.32 1470.49M1018.92 1470.49L1035.32 1454.09" stroke="#00FFFF" stroke-width="7" fill="none"/>
<path d="M1067.76 1427.45L1084.16 1443.85M1067.76 1443.85L1084.16 1427.45" stroke="#00FFFF" stroke-width="7" fill="none"/>
<path d="M1116.6 1405.93L1133 1422.33M1116.6 1422.33L1133 1405.93" stroke="#00FFFF" stroke-width="7" fill="none"/>
<path d="M1165.44 1390.78L1181.84 1407.18M1165.44 1407.18L1181.84 1390.78" stroke="#00FFFF" stroke-width="7" fill="none"/>
<path d="M1214.28 1384.41L1230.68 1400.82M1214.28 1400.82L1230.68 1384.41" stroke="#00FFFF" stroke-width="7" fill="none"/>
<path d="M1263.12 1379.78L1279.52 1396.18M1263.12 1396.18L1279.52 1379.78" stroke="#00FFFF" stroke-width="7" fill="none"/>
<path d="M1311.96 1377.47L1328.36 1393.87M1311.96 1393.87L1328.36 1377.47" stroke="#00FFFF" stroke-width="7" fill="none"/>
<path d="M1360.8 1375.92L1377.2 1392.32M1360.8 1392.32L1377.2 1375.92" stroke="#00FFFF" stroke-width="7" fill="none"/>
<polyline points="148,2345.75 196.84,2345.75 245.68,2345.75 294.52,2345.75 343.36,2345.75 392.2,2345.75 441.04,2343.72 489.88,2339.67 538.72,2329.53 587.56,2305.89 636.4,2248.47 685.24,2151.59 734.08,2021.22 782.92,1879.65 831.76,1746.96 880.6,1638.21 929.44,1557.34 978.28,1498.76 1027.12,1457.95 1075.96,1430.83 1124.8,1413.65 1173.64,1402.46 1222.48,1395.22 1271.32,1390.01 1320.16,1386.34 1369,1384.51" fill="none" stroke="#00FF00" stroke-width="7.4" stroke-linejoin="round"/>
<polygon points="133.45,2345.75 155.27,2333.15 155.27,2358.35" fill="none" stroke="#00FF00" stroke-width="7" stroke-linejoin="miter" stroke-miterlimit="10"/>
<polygon points="182.29,2345.75 204.11,2333.15 204.11,2358.35" fill="none" stroke="#00FF00" stroke-width="7" stroke-linejoin="miter" stroke-miterlimit="10"/>
<polygon points="231.13,2345.75 252.95,2333.15 252.95,2358.35" fill="none" stroke="#00FF00" stroke-width="7" stroke-linejoin="miter" stroke-miterlimit="10"/>
<polygon points="279.97,2345.75 301.79,2333.15 301.79,2358.35" fill="none" stroke="#00FF00" stroke-width="7" stroke-linejoin="miter" stroke-miterlimit="10"/>
<polygon points="328.81,2345.75 350.63,2333.15 350.63,2358.35" fill="none" stroke="#00FF00" stroke-width="7" stroke-linejoin="miter" stroke-miterlimit="10"/>
<polygon points="377.65,2345.75 399.47,2333.15 399.47,2358.35" fill="none" stroke="#00FF00" stroke-width="7" stroke-linejoin="miter" stroke-miterlimit="10"/>
<polygon points="426.49,2343.72 448.31,2331.12 448.31,2356.32" fill="none" stroke="#00FF00" stroke-width="7" stroke-linejoin="miter" stroke-miterlimit="10"/>
<polygon points="475.33,2339.67 497.15,2327.07 497.15,2352.27" fill="none" stroke="#00FF00" stroke-width="7" stroke-linejoin="miter" stroke-miterlimit="10"/>
<polygon points="524.17,2329.53 545.99,2316.93 545.99,2342.13" fill="none" stroke="#00FF00" stroke-width="7" stroke-linejoin="miter" stroke-miterlimit="10"/>
<polygon points="573.01,2305.89 594.83,2293.29 594.83,2318.49" fill="none" stroke="#00FF00" stroke-width="7" stroke-linejoin="miter" stroke-miterlimit="10"/>
<polygon points="621.85,2248.47 643.67,2235.87 643.67,2261.07" fill="none" stroke="#00FF00" stroke-width="7" stroke-linejoin="miter" stroke-miterlimit="10"/>
<polygon points="670.69,2151.59 692.51,2138.99 692.51,2164.19" fill="none" stroke="#00FF00" stroke-width="7" stroke-linejoin="miter" stroke-miterlimit="10"/>
<polygon points="719.53,2021.22 741.35,2008.62 741.35,2033.82" fill="none" stroke="#00FF00" stroke-width="7" stroke-linejoin="miter" stroke-miterlimit="10"/>
<polygon points="768.37,1879.65 790.19,1867.05 790.19,1892.25" fill="none" stroke="#00FF00" stroke-width="7" stroke-linejoin="miter" stroke-miterlimit="10"/>
<polygon points="817.21,1746.96 839.03,1734.36 839.03,1759.56" fill="none" stroke="#00FF00" stroke-width="7" stroke-linejoin="miter" stroke-miterlimit="10"/>
<polygon points="866.05,1638.21 887.87,1625.61 887.87,1650.81" fill="none" stroke="#00FF00" stroke-width="7" stroke-linejoin="miter" stroke-miterlimit="10"/>
<polygon points="914.89,1557.34 936.71,1544.74 936.71,1569.94" fill="none" stroke="#00FF00" stroke-width="7" stroke-linejoin="miter" stroke-miterlimit="10"/>
<polygon points="963.73,1498.76 985.55,1486.16 985.55,1511.36" fill="none" stroke="#00FF00" stroke-width="7" stroke-linejoin="miter" stroke-miterlimit="10"/>
<polygon points="1012.57,1457.95 1034.39,1445.35 1034.39,1470.55" fill="none" stroke="#00FF00" stroke-width="7" stroke-linejoin="miter" stroke-miterlimit="10"/>
<polygon points="1061.41,1430.83 1083.23,1418.23 1083.23,1443.43" fill="none" stroke="#00FF00" stroke-width="7" stroke-linejoin="miter" stroke-miterlimit="10"/>
<polygon points="1110.25,1413.65 1132.07,1401.05 1132.07,1426.25" fill="none" stroke="#00FF00" stroke-width="7" stroke-linejoin="miter" stroke-miterlimit="10"/>
<polygon points="1159.09,1402.46 1180.91,1389.86 1180.91,1415.06" fill="none" stroke="#00FF00" stroke-width="7" stroke-linejoin="miter" stroke-miterlimit="10"/>
<polygon points="1207.93,1395.22 1229.75,1382.62 1229.75,1407.82" fill="none" stroke="#00FF00" stroke-width="7" stroke-linejoin="miter" stroke-miterlimit="10"/>
<polygon points="1256.77,1390.01 1278.59,1377.41 1278.59,1402.61" fill="none" stroke="#00FF00" stroke-width="7" stroke-linejoin="miter" stroke-miterlimit="10"/>
<polygon points="1305.61,1386.34 1327.43,1373.74 1327.43,1398.94" fill="none" stroke="#00FF00" stroke-width="7" stroke-linejoin="miter" stroke-miterlimit="10"/>
<polygon points="1354.45,1384.51 1376.27,1371.91 1376.27,1397.11" fill="none" stroke="#00FF00" stroke-width="7" stroke-linejoin="miter" stroke-miterlimit="10"/>
<rect x="991.3" y="2000.4" width="358.3" height="335.8" fill="#fff" stroke="#262626" stroke-width="1.9"/>
<g font-family="'Liberation Sans', sans-serif" font-size="33.3" fill="#000">
<path d="M1002 2029.1H1116.4" stroke="#FF0000" stroke-width="6"/>
<circle cx="1059.1" cy="2029.1" r="10.9" fill="none" stroke="#FF0000" stroke-width="6.5"/>
<text x="1125.3" y="2041.9">TR-ALRT-WO</text>
<path d="M1002 2075.5H1116.4" stroke="#000000" stroke-width="6.8"/>
<polygon points="1059.1,2055.9 1063.8,2069.03 1077.74,2069.44 1066.71,2077.97 1070.62,2091.36 1059.1,2083.5 1047.58,2091.36 1051.49,2077.97 1040.46,2069.44 1054.4,2069.03" fill="#000000" stroke="#000000" stroke-width="1.2" stroke-linejoin="miter" stroke-miterlimit="2"/>
<text x="1125.3" y="2088.3">TR-ALRT</text>
<path d="M1002 2121.9H1116.4" stroke="#FF00FF" stroke-width="6.1"/>
<polygon points="1059.1,2107.35 1046.5,2129.17 1071.7,2129.17" fill="none" stroke="#FF00FF" stroke-width="6.5" stroke-linejoin="miter" stroke-miterlimit="10"/>
<text x="1125.3" y="2134.7">TR-LRT</text>
<path d="M1002 2168.3H1116.4" stroke="#0000FF" stroke-width="7"/>
<path d="M1050.9 2160.1L1067.3 2176.5M1050.9 2176.5L1067.3 2160.1" stroke="#0000FF" stroke-width="7" fill="none"/><path d="M1059.1 2156.7L1059.1 2179.9M1047.5 2168.3L1070.7 2168.3" stroke="#0000FF" stroke-width="6.2" fill="none"/>
<text x="1125.3" y="2181.1">C-LRT</text>
<path d="M1002 2214.7H1116.4" stroke="#FF8000" stroke-width="7"/>
<polygon points="1059.1,2200.4 1071.1,2214.7 1059.1,2229 1047.1,2214.7" fill="none" stroke="#FF8000" stroke-width="6.8" stroke-linejoin="miter" stroke-miterlimit="10"/>
<text x="1125.3" y="2227.5">T-AMF</text>
<path d="M1002 2261.1H1116.4" stroke="#00FFFF" stroke-width="7"/>
<path d="M1050.9 2252.9L1067.3 2269.3M1050.9 2269.3L1067.3 2252.9" stroke="#00FFFF" stroke-width="7" fill="none"/>
<text x="1125.3" y="2273.9">GLRT</text>
<path d="M1002 2307.5H1116.4" stroke="#00FF00" stroke-width="7"/>
<polygon points="1044.55,2307.5 1066.37,2294.9 1066.37,2320.1" fill="none" stroke="#00FF00" stroke-width="7" stroke-linejoin="miter" stroke-miterlimit="10"/>
<text x="1125.3" y="2320.3">MP-AMF</text>
</g>
<g font-family="'Liberation Serif', serif" font-size="85" fill="#000" text-anchor="middle">
<text x="661.6" y="2575.6">(</text>
<text x="693.75" y="2576.5" font-weight="bold">c</text>
<text x="726" y="2575.6">)</text>
</g>
</svg>
</body></html>
